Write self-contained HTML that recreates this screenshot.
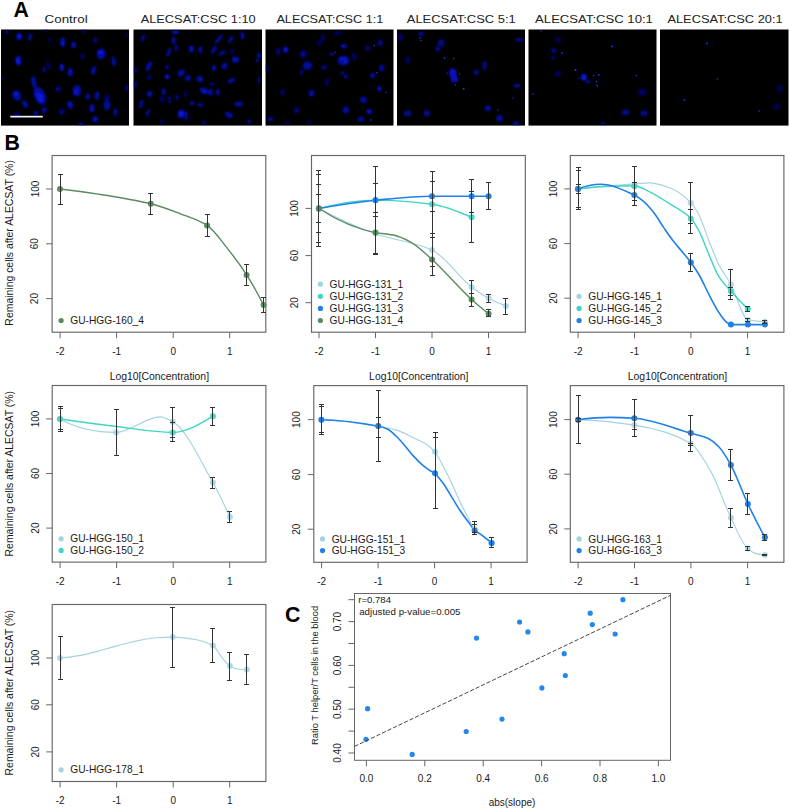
<!DOCTYPE html>
<html><head><meta charset="utf-8"><style>
html,body{margin:0;padding:0;background:#fff;}
svg{display:block;font-family:"Liberation Sans", sans-serif;}
</style></head><body>
<svg width="790" height="808" viewBox="0 0 790 808">
<rect width="790" height="808" fill="#fff"/>
<text x="13.40" y="16.50" font-size="21.3" text-anchor="start" fill="#000" font-weight="bold" >A</text>
<rect x="1" y="29.5" width="128" height="96.1" fill="#000"/>
<rect x="133.5" y="29.5" width="128.5" height="96.1" fill="#000"/>
<rect x="265.5" y="29.5" width="128.0" height="96.1" fill="#000"/>
<rect x="397" y="29.5" width="128" height="96.1" fill="#000"/>
<rect x="528.5" y="29.5" width="128.0" height="96.1" fill="#000"/>
<rect x="660" y="29.5" width="128.5" height="96.1" fill="#000"/>
<text x="44.60" y="22.80" font-size="11.6" text-anchor="start" fill="#222" textLength="43.10" lengthAdjust="spacingAndGlyphs" >Control</text>
<text x="140.70" y="22.80" font-size="11.6" text-anchor="start" fill="#222" textLength="115.00" lengthAdjust="spacingAndGlyphs" >ALECSAT:CSC 1:10</text>
<text x="276.40" y="22.80" font-size="11.6" text-anchor="start" fill="#222" textLength="107.00" lengthAdjust="spacingAndGlyphs" >ALECSAT:CSC 1:1</text>
<text x="406.80" y="22.80" font-size="11.6" text-anchor="start" fill="#222" textLength="108.90" lengthAdjust="spacingAndGlyphs" >ALECSAT:CSC 5:1</text>
<text x="535.10" y="22.80" font-size="11.6" text-anchor="start" fill="#222" textLength="117.80" lengthAdjust="spacingAndGlyphs" >ALECSAT:CSC 10:1</text>
<text x="667.40" y="22.80" font-size="11.6" text-anchor="start" fill="#222" textLength="115.30" lengthAdjust="spacingAndGlyphs" >ALECSAT:CSC 20:1</text>
<defs><filter id="bl" x="-50%" y="-50%" width="200%" height="200%"><feGaussianBlur stdDeviation="0.9"/></filter><filter id="bl2" x="-50%" y="-50%" width="200%" height="200%"><feGaussianBlur stdDeviation="1.3"/></filter><filter id="bl3" x="-50%" y="-50%" width="200%" height="200%"><feGaussianBlur stdDeviation="0.35"/></filter><clipPath id="pc"><rect x="1" y="29.5" width="128" height="96.1"/><rect x="133.5" y="29.5" width="128.5" height="96.1"/><rect x="265.5" y="29.5" width="128.0" height="96.1"/><rect x="397" y="29.5" width="128" height="96.1"/><rect x="528.5" y="29.5" width="128.0" height="96.1"/><rect x="660" y="29.5" width="128.5" height="96.1"/></clipPath></defs>
<g clip-path="url(#pc)">
<g filter="url(#bl)">
<ellipse cx="19.2" cy="36.4" rx="3.0" ry="3.9" transform="rotate(0 19.2 36.4)" fill="rgb(6,12,158)"/>
<ellipse cx="18.3" cy="36.2" rx="1.2" ry="1.4" transform="rotate(16 18.3 36.2)" fill="rgb(10,22,214)"/>
<ellipse cx="19.8" cy="37.2" rx="1.2" ry="1.4" transform="rotate(-4 19.8 37.2)" fill="rgb(10,22,214)"/>
<ellipse cx="20.0" cy="36.5" rx="1.2" ry="1.4" transform="rotate(-25 20.0 36.5)" fill="rgb(10,22,214)"/>
<ellipse cx="30.1" cy="37.2" rx="1.9" ry="4.3" transform="rotate(10 30.1 37.2)" fill="rgb(4,8,130)"/>
<ellipse cx="30.3" cy="35.3" rx="0.8" ry="1.5" transform="rotate(36 30.3 35.3)" fill="rgb(7,14,174)"/>
<ellipse cx="31.0" cy="36.6" rx="0.8" ry="1.5" transform="rotate(-1 31.0 36.6)" fill="rgb(7,14,174)"/>
<ellipse cx="30.7" cy="36.0" rx="0.8" ry="1.5" transform="rotate(-9 30.7 36.0)" fill="rgb(7,14,174)"/>
<ellipse cx="6.7" cy="32.2" rx="2.4" ry="1.7" transform="rotate(0 6.7 32.2)" fill="rgb(3,7,117)"/>
<ellipse cx="6.0" cy="31.9" rx="1.0" ry="0.6" transform="rotate(8 6.0 31.9)" fill="rgb(5,11,154)"/>
<ellipse cx="7.7" cy="31.7" rx="1.0" ry="0.6" transform="rotate(27 7.7 31.7)" fill="rgb(5,11,154)"/>
<ellipse cx="6.8" cy="32.9" rx="1.0" ry="0.6" transform="rotate(19 6.8 32.9)" fill="rgb(5,11,154)"/>
<ellipse cx="45.9" cy="30.5" rx="1.9" ry="1.3" transform="rotate(0 45.9 30.5)" fill="rgb(3,5,103)"/>
<ellipse cx="45.4" cy="30.7" rx="0.8" ry="0.5" transform="rotate(-23 45.4 30.7)" fill="rgb(4,9,134)"/>
<ellipse cx="45.1" cy="30.4" rx="0.8" ry="0.5" transform="rotate(16 45.1 30.4)" fill="rgb(4,9,134)"/>
<ellipse cx="46.1" cy="30.1" rx="0.8" ry="0.5" transform="rotate(20 46.1 30.1)" fill="rgb(4,9,134)"/>
<ellipse cx="50.1" cy="39.7" rx="1.7" ry="2.2" transform="rotate(0 50.1 39.7)" fill="rgb(3,5,96)"/>
<ellipse cx="50.8" cy="39.1" rx="0.7" ry="0.8" transform="rotate(-3 50.8 39.1)" fill="rgb(4,7,124)"/>
<ellipse cx="50.3" cy="40.5" rx="0.7" ry="0.8" transform="rotate(-22 50.3 40.5)" fill="rgb(4,7,124)"/>
<ellipse cx="50.2" cy="40.7" rx="0.7" ry="0.8" transform="rotate(7 50.2 40.7)" fill="rgb(4,7,124)"/>
<ellipse cx="62.7" cy="42.2" rx="2.8" ry="4.7" transform="rotate(0 62.7 42.2)" fill="rgb(5,11,151)"/>
<ellipse cx="63.2" cy="43.5" rx="1.1" ry="1.7" transform="rotate(0 63.2 43.5)" fill="rgb(9,20,204)"/>
<ellipse cx="62.1" cy="42.6" rx="1.1" ry="1.7" transform="rotate(2 62.1 42.6)" fill="rgb(9,20,204)"/>
<ellipse cx="62.3" cy="43.8" rx="1.1" ry="1.7" transform="rotate(-8 62.3 43.8)" fill="rgb(9,20,204)"/>
<ellipse cx="73.5" cy="44.7" rx="2.6" ry="3.2" transform="rotate(0 73.5 44.7)" fill="rgb(5,10,144)"/>
<ellipse cx="73.5" cy="45.5" rx="1.0" ry="1.2" transform="rotate(19 73.5 45.5)" fill="rgb(9,18,194)"/>
<ellipse cx="74.4" cy="45.2" rx="1.0" ry="1.2" transform="rotate(-15 74.4 45.2)" fill="rgb(9,18,194)"/>
<ellipse cx="74.3" cy="46.0" rx="1.0" ry="1.2" transform="rotate(13 74.3 46.0)" fill="rgb(9,18,194)"/>
<ellipse cx="83.5" cy="31.3" rx="2.4" ry="1.7" transform="rotate(0 83.5 31.3)" fill="rgb(3,5,103)"/>
<ellipse cx="84.1" cy="31.4" rx="1.0" ry="0.6" transform="rotate(-0 84.1 31.4)" fill="rgb(4,9,134)"/>
<ellipse cx="83.7" cy="30.7" rx="1.0" ry="0.6" transform="rotate(11 83.7 30.7)" fill="rgb(4,9,134)"/>
<ellipse cx="84.3" cy="30.8" rx="1.0" ry="0.6" transform="rotate(15 84.3 30.8)" fill="rgb(4,9,134)"/>
<ellipse cx="95.2" cy="40.5" rx="1.9" ry="3.2" transform="rotate(15 95.2 40.5)" fill="rgb(3,7,117)"/>
<ellipse cx="95.9" cy="39.5" rx="0.8" ry="1.2" transform="rotate(-12 95.9 39.5)" fill="rgb(5,11,154)"/>
<ellipse cx="95.6" cy="39.7" rx="0.8" ry="1.2" transform="rotate(4 95.6 39.7)" fill="rgb(5,11,154)"/>
<ellipse cx="95.3" cy="41.0" rx="0.8" ry="1.2" transform="rotate(30 95.3 41.0)" fill="rgb(5,11,154)"/>
<ellipse cx="101.1" cy="53.9" rx="4.7" ry="5.6" transform="rotate(0 101.1 53.9)" fill="rgb(5,11,151)"/>
<ellipse cx="101.4" cy="53.0" rx="1.9" ry="2.0" transform="rotate(-29 101.4 53.0)" fill="rgb(9,20,204)"/>
<ellipse cx="99.5" cy="52.2" rx="1.9" ry="2.0" transform="rotate(2 99.5 52.2)" fill="rgb(9,20,204)"/>
<ellipse cx="102.0" cy="52.3" rx="1.9" ry="2.0" transform="rotate(-7 102.0 52.3)" fill="rgb(9,20,204)"/>
<ellipse cx="113.6" cy="61.4" rx="2.4" ry="5.4" transform="rotate(-10 113.6 61.4)" fill="rgb(4,8,130)"/>
<ellipse cx="114.4" cy="60.7" rx="1.0" ry="1.9" transform="rotate(3 114.4 60.7)" fill="rgb(7,14,174)"/>
<ellipse cx="114.0" cy="62.2" rx="1.0" ry="1.9" transform="rotate(-11 114.0 62.2)" fill="rgb(7,14,174)"/>
<ellipse cx="113.9" cy="62.4" rx="1.0" ry="1.9" transform="rotate(-30 113.9 62.4)" fill="rgb(7,14,174)"/>
<ellipse cx="18.4" cy="60.6" rx="3.2" ry="5.2" transform="rotate(0 18.4 60.6)" fill="rgb(6,13,164)"/>
<ellipse cx="19.2" cy="62.5" rx="1.3" ry="1.8" transform="rotate(-27 19.2 62.5)" fill="rgb(11,24,224)"/>
<ellipse cx="17.5" cy="59.3" rx="1.3" ry="1.8" transform="rotate(-24 17.5 59.3)" fill="rgb(11,24,224)"/>
<ellipse cx="17.3" cy="61.3" rx="1.3" ry="1.8" transform="rotate(-23 17.3 61.3)" fill="rgb(11,24,224)"/>
<ellipse cx="82.7" cy="56.4" rx="1.9" ry="3.2" transform="rotate(0 82.7 56.4)" fill="rgb(3,5,103)"/>
<ellipse cx="82.0" cy="57.8" rx="0.8" ry="1.2" transform="rotate(-6 82.0 57.8)" fill="rgb(4,9,134)"/>
<ellipse cx="82.8" cy="56.3" rx="0.8" ry="1.2" transform="rotate(-9 82.8 56.3)" fill="rgb(4,9,134)"/>
<ellipse cx="82.6" cy="55.4" rx="0.8" ry="1.2" transform="rotate(5 82.6 55.4)" fill="rgb(4,9,134)"/>
<ellipse cx="48.5" cy="65.6" rx="1.5" ry="4.7" transform="rotate(-20 48.5 65.6)" fill="rgb(3,5,96)"/>
<ellipse cx="47.6" cy="64.2" rx="0.6" ry="1.7" transform="rotate(-37 47.6 64.2)" fill="rgb(4,7,124)"/>
<ellipse cx="49.0" cy="67.5" rx="0.6" ry="1.7" transform="rotate(-14 49.0 67.5)" fill="rgb(4,7,124)"/>
<ellipse cx="48.9" cy="64.9" rx="0.6" ry="1.7" transform="rotate(-34 48.9 64.9)" fill="rgb(4,7,124)"/>
<ellipse cx="44.3" cy="69.8" rx="1.9" ry="3.0" transform="rotate(0 44.3 69.8)" fill="rgb(3,6,110)"/>
<ellipse cx="44.6" cy="68.9" rx="0.8" ry="1.1" transform="rotate(30 44.6 68.9)" fill="rgb(5,10,144)"/>
<ellipse cx="44.1" cy="69.1" rx="0.8" ry="1.1" transform="rotate(-14 44.1 69.1)" fill="rgb(5,10,144)"/>
<ellipse cx="43.9" cy="71.1" rx="0.8" ry="1.1" transform="rotate(30 43.9 71.1)" fill="rgb(5,10,144)"/>
<ellipse cx="61.8" cy="67.3" rx="2.4" ry="3.9" transform="rotate(0 61.8 67.3)" fill="rgb(5,11,151)"/>
<ellipse cx="61.9" cy="66.2" rx="1.0" ry="1.4" transform="rotate(-29 61.9 66.2)" fill="rgb(9,20,204)"/>
<ellipse cx="60.9" cy="66.5" rx="1.0" ry="1.4" transform="rotate(9 60.9 66.5)" fill="rgb(9,20,204)"/>
<ellipse cx="62.1" cy="68.6" rx="1.0" ry="1.4" transform="rotate(19 62.1 68.6)" fill="rgb(9,20,204)"/>
<ellipse cx="70.2" cy="72.3" rx="2.6" ry="4.3" transform="rotate(0 70.2 72.3)" fill="rgb(5,11,151)"/>
<ellipse cx="69.8" cy="73.0" rx="1.0" ry="1.5" transform="rotate(-3 69.8 73.0)" fill="rgb(9,20,204)"/>
<ellipse cx="70.7" cy="70.9" rx="1.0" ry="1.5" transform="rotate(29 70.7 70.9)" fill="rgb(9,20,204)"/>
<ellipse cx="69.1" cy="72.8" rx="1.0" ry="1.5" transform="rotate(-9 69.1 72.8)" fill="rgb(9,20,204)"/>
<ellipse cx="93.6" cy="70.6" rx="2.4" ry="4.7" transform="rotate(10 93.6 70.6)" fill="rgb(4,8,130)"/>
<ellipse cx="94.5" cy="69.1" rx="1.0" ry="1.7" transform="rotate(33 94.5 69.1)" fill="rgb(7,14,174)"/>
<ellipse cx="92.3" cy="71.5" rx="1.0" ry="1.7" transform="rotate(22 92.3 71.5)" fill="rgb(7,14,174)"/>
<ellipse cx="93.8" cy="69.1" rx="1.0" ry="1.7" transform="rotate(3 93.8 69.1)" fill="rgb(7,14,174)"/>
<ellipse cx="33.4" cy="79.8" rx="2.6" ry="3.9" transform="rotate(0 33.4 79.8)" fill="rgb(4,8,130)"/>
<ellipse cx="33.3" cy="78.7" rx="1.0" ry="1.4" transform="rotate(-20 33.3 78.7)" fill="rgb(7,14,174)"/>
<ellipse cx="34.2" cy="80.0" rx="1.0" ry="1.4" transform="rotate(-14 34.2 80.0)" fill="rgb(7,14,174)"/>
<ellipse cx="33.7" cy="80.3" rx="1.0" ry="1.4" transform="rotate(-22 33.7 80.3)" fill="rgb(7,14,174)"/>
<ellipse cx="39.8" cy="95.7" rx="5.6" ry="9.5" transform="rotate(-25 39.8 95.7)" fill="rgb(6,12,158)"/>
<ellipse cx="40.5" cy="96.2" rx="2.2" ry="3.4" transform="rotate(-48 40.5 96.2)" fill="rgb(10,22,214)"/>
<ellipse cx="40.3" cy="99.2" rx="2.2" ry="3.4" transform="rotate(-20 40.3 99.2)" fill="rgb(10,22,214)"/>
<ellipse cx="38.1" cy="95.4" rx="2.2" ry="3.4" transform="rotate(-27 38.1 95.4)" fill="rgb(10,22,214)"/>
<ellipse cx="34.3" cy="84.0" rx="2.4" ry="3.2" transform="rotate(0 34.3 84.0)" fill="rgb(4,9,137)"/>
<ellipse cx="34.7" cy="85.1" rx="1.0" ry="1.2" transform="rotate(-25 34.7 85.1)" fill="rgb(8,16,184)"/>
<ellipse cx="33.3" cy="83.8" rx="1.0" ry="1.2" transform="rotate(-29 33.3 83.8)" fill="rgb(8,16,184)"/>
<ellipse cx="33.5" cy="82.7" rx="1.0" ry="1.2" transform="rotate(-25 33.5 82.7)" fill="rgb(8,16,184)"/>
<ellipse cx="16.7" cy="95.7" rx="4.3" ry="5.4" transform="rotate(-30 16.7 95.7)" fill="rgb(5,11,151)"/>
<ellipse cx="16.1" cy="93.6" rx="1.7" ry="1.9" transform="rotate(-26 16.1 93.6)" fill="rgb(9,20,204)"/>
<ellipse cx="17.3" cy="93.1" rx="1.7" ry="1.9" transform="rotate(-14 17.3 93.1)" fill="rgb(9,20,204)"/>
<ellipse cx="16.1" cy="94.0" rx="1.7" ry="1.9" transform="rotate(-3 16.1 94.0)" fill="rgb(9,20,204)"/>
<ellipse cx="25.1" cy="104.0" rx="2.6" ry="4.3" transform="rotate(-30 25.1 104.0)" fill="rgb(4,9,137)"/>
<ellipse cx="25.3" cy="103.3" rx="1.0" ry="1.5" transform="rotate(-7 25.3 103.3)" fill="rgb(8,16,184)"/>
<ellipse cx="25.0" cy="105.7" rx="1.0" ry="1.5" transform="rotate(-9 25.0 105.7)" fill="rgb(8,16,184)"/>
<ellipse cx="25.2" cy="106.0" rx="1.0" ry="1.5" transform="rotate(-13 25.2 106.0)" fill="rgb(8,16,184)"/>
<ellipse cx="58.5" cy="89.0" rx="3.2" ry="2.8" transform="rotate(0 58.5 89.0)" fill="rgb(3,5,103)"/>
<ellipse cx="59.7" cy="88.4" rx="1.3" ry="1.0" transform="rotate(14 59.7 88.4)" fill="rgb(4,9,134)"/>
<ellipse cx="59.3" cy="88.6" rx="1.3" ry="1.0" transform="rotate(-28 59.3 88.6)" fill="rgb(4,9,134)"/>
<ellipse cx="57.1" cy="89.0" rx="1.3" ry="1.0" transform="rotate(3 57.1 89.0)" fill="rgb(4,9,134)"/>
<ellipse cx="76.9" cy="90.7" rx="4.3" ry="6.0" transform="rotate(0 76.9 90.7)" fill="rgb(5,10,144)"/>
<ellipse cx="75.4" cy="91.4" rx="1.7" ry="2.2" transform="rotate(-27 75.4 91.4)" fill="rgb(9,18,194)"/>
<ellipse cx="76.8" cy="90.7" rx="1.7" ry="2.2" transform="rotate(-18 76.8 90.7)" fill="rgb(9,18,194)"/>
<ellipse cx="75.1" cy="93.0" rx="1.7" ry="2.2" transform="rotate(21 75.1 93.0)" fill="rgb(9,18,194)"/>
<ellipse cx="87.7" cy="96.5" rx="2.2" ry="3.4" transform="rotate(0 87.7 96.5)" fill="rgb(4,9,137)"/>
<ellipse cx="87.9" cy="94.9" rx="0.9" ry="1.2" transform="rotate(2 87.9 94.9)" fill="rgb(8,16,184)"/>
<ellipse cx="88.6" cy="97.4" rx="0.9" ry="1.2" transform="rotate(11 88.6 97.4)" fill="rgb(8,16,184)"/>
<ellipse cx="86.8" cy="96.8" rx="0.9" ry="1.2" transform="rotate(-16 86.8 96.8)" fill="rgb(8,16,184)"/>
<ellipse cx="96.9" cy="95.7" rx="2.4" ry="4.3" transform="rotate(0 96.9 95.7)" fill="rgb(4,9,137)"/>
<ellipse cx="97.9" cy="93.6" rx="1.0" ry="1.5" transform="rotate(-17 97.9 93.6)" fill="rgb(8,16,184)"/>
<ellipse cx="97.7" cy="94.1" rx="1.0" ry="1.5" transform="rotate(-12 97.7 94.1)" fill="rgb(8,16,184)"/>
<ellipse cx="96.5" cy="97.3" rx="1.0" ry="1.5" transform="rotate(12 96.5 97.3)" fill="rgb(8,16,184)"/>
<ellipse cx="106.9" cy="104.9" rx="3.4" ry="5.6" transform="rotate(0 106.9 104.9)" fill="rgb(4,8,130)"/>
<ellipse cx="108.3" cy="103.2" rx="1.4" ry="2.0" transform="rotate(-25 108.3 103.2)" fill="rgb(7,14,174)"/>
<ellipse cx="106.5" cy="106.3" rx="1.4" ry="2.0" transform="rotate(7 106.5 106.3)" fill="rgb(7,14,174)"/>
<ellipse cx="108.3" cy="106.0" rx="1.4" ry="2.0" transform="rotate(-25 108.3 106.0)" fill="rgb(7,14,174)"/>
<ellipse cx="70.2" cy="104.9" rx="2.8" ry="4.3" transform="rotate(-20 70.2 104.9)" fill="rgb(5,11,151)"/>
<ellipse cx="69.3" cy="103.8" rx="1.1" ry="1.5" transform="rotate(-34 69.3 103.8)" fill="rgb(9,20,204)"/>
<ellipse cx="70.5" cy="104.5" rx="1.1" ry="1.5" transform="rotate(-5 70.5 104.5)" fill="rgb(9,20,204)"/>
<ellipse cx="69.6" cy="106.9" rx="1.1" ry="1.5" transform="rotate(-40 69.6 106.9)" fill="rgb(9,20,204)"/>
<ellipse cx="91.9" cy="108.2" rx="2.6" ry="4.3" transform="rotate(0 91.9 108.2)" fill="rgb(5,11,151)"/>
<ellipse cx="92.5" cy="109.7" rx="1.0" ry="1.5" transform="rotate(-27 92.5 109.7)" fill="rgb(9,20,204)"/>
<ellipse cx="92.0" cy="110.2" rx="1.0" ry="1.5" transform="rotate(-30 92.0 110.2)" fill="rgb(9,20,204)"/>
<ellipse cx="91.9" cy="107.9" rx="1.0" ry="1.5" transform="rotate(-7 91.9 107.9)" fill="rgb(9,20,204)"/>
<ellipse cx="115.3" cy="112.4" rx="2.2" ry="4.3" transform="rotate(0 115.3 112.4)" fill="rgb(3,7,117)"/>
<ellipse cx="114.7" cy="111.0" rx="0.9" ry="1.5" transform="rotate(-14 114.7 111.0)" fill="rgb(5,11,154)"/>
<ellipse cx="114.7" cy="111.5" rx="0.9" ry="1.5" transform="rotate(24 114.7 111.5)" fill="rgb(5,11,154)"/>
<ellipse cx="116.2" cy="111.4" rx="0.9" ry="1.5" transform="rotate(-28 116.2 111.4)" fill="rgb(5,11,154)"/>
<ellipse cx="127.0" cy="88.2" rx="1.7" ry="3.2" transform="rotate(0 127.0 88.2)" fill="rgb(3,7,117)"/>
<ellipse cx="126.6" cy="89.3" rx="0.7" ry="1.2" transform="rotate(-19 126.6 89.3)" fill="rgb(5,11,154)"/>
<ellipse cx="127.2" cy="86.9" rx="0.7" ry="1.2" transform="rotate(-9 127.2 86.9)" fill="rgb(5,11,154)"/>
<ellipse cx="126.5" cy="88.5" rx="0.7" ry="1.2" transform="rotate(-8 126.5 88.5)" fill="rgb(5,11,154)"/>
<ellipse cx="61.8" cy="111.5" rx="3.0" ry="3.0" transform="rotate(0 61.8 111.5)" fill="rgb(3,5,103)"/>
<ellipse cx="62.6" cy="111.6" rx="1.2" ry="1.1" transform="rotate(-6 62.6 111.6)" fill="rgb(4,9,134)"/>
<ellipse cx="60.5" cy="112.5" rx="1.2" ry="1.1" transform="rotate(-28 60.5 112.5)" fill="rgb(4,9,134)"/>
<ellipse cx="61.8" cy="113.0" rx="1.2" ry="1.1" transform="rotate(17 61.8 113.0)" fill="rgb(4,9,134)"/>
<ellipse cx="95.2" cy="119.1" rx="3.2" ry="3.2" transform="rotate(0 95.2 119.1)" fill="rgb(4,9,137)"/>
<ellipse cx="94.8" cy="120.4" rx="1.3" ry="1.2" transform="rotate(-15 94.8 120.4)" fill="rgb(8,16,184)"/>
<ellipse cx="95.5" cy="119.3" rx="1.3" ry="1.2" transform="rotate(13 95.5 119.3)" fill="rgb(8,16,184)"/>
<ellipse cx="94.6" cy="118.7" rx="1.3" ry="1.2" transform="rotate(-11 94.6 118.7)" fill="rgb(8,16,184)"/>
<ellipse cx="81.0" cy="124.1" rx="2.6" ry="1.7" transform="rotate(0 81.0 124.1)" fill="rgb(5,10,144)"/>
<ellipse cx="82.0" cy="124.5" rx="1.0" ry="0.6" transform="rotate(-10 82.0 124.5)" fill="rgb(9,18,194)"/>
<ellipse cx="81.7" cy="124.3" rx="1.0" ry="0.6" transform="rotate(-15 81.7 124.3)" fill="rgb(9,18,194)"/>
<ellipse cx="81.0" cy="123.4" rx="1.0" ry="0.6" transform="rotate(-17 81.0 123.4)" fill="rgb(9,18,194)"/>
<ellipse cx="44.3" cy="109.9" rx="2.8" ry="3.2" transform="rotate(0 44.3 109.9)" fill="rgb(3,7,117)"/>
<ellipse cx="43.2" cy="108.5" rx="1.1" ry="1.2" transform="rotate(7 43.2 108.5)" fill="rgb(5,11,154)"/>
<ellipse cx="45.1" cy="110.9" rx="1.1" ry="1.2" transform="rotate(-17 45.1 110.9)" fill="rgb(5,11,154)"/>
<ellipse cx="45.4" cy="109.3" rx="1.1" ry="1.2" transform="rotate(11 45.4 109.3)" fill="rgb(5,11,154)"/>
<ellipse cx="35.9" cy="113.2" rx="2.8" ry="2.8" transform="rotate(0 35.9 113.2)" fill="rgb(3,7,117)"/>
<ellipse cx="36.2" cy="113.1" rx="1.1" ry="1.0" transform="rotate(11 36.2 113.1)" fill="rgb(5,11,154)"/>
<ellipse cx="36.9" cy="113.8" rx="1.1" ry="1.0" transform="rotate(1 36.9 113.8)" fill="rgb(5,11,154)"/>
<ellipse cx="36.8" cy="113.9" rx="1.1" ry="1.0" transform="rotate(-8 36.8 113.9)" fill="rgb(5,11,154)"/>
<ellipse cx="16.7" cy="114.9" rx="3.2" ry="2.6" transform="rotate(0 16.7 114.9)" fill="rgb(3,5,103)"/>
<ellipse cx="18.1" cy="114.6" rx="1.3" ry="0.9" transform="rotate(-28 18.1 114.6)" fill="rgb(4,9,134)"/>
<ellipse cx="18.0" cy="116.0" rx="1.3" ry="0.9" transform="rotate(2 18.0 116.0)" fill="rgb(4,9,134)"/>
<ellipse cx="17.4" cy="115.4" rx="1.3" ry="0.9" transform="rotate(-24 17.4 115.4)" fill="rgb(4,9,134)"/>
<ellipse cx="127.0" cy="34.7" rx="1.3" ry="2.6" transform="rotate(0 127.0 34.7)" fill="rgb(2,4,89)"/>
<ellipse cx="127.3" cy="35.0" rx="0.5" ry="0.9" transform="rotate(28 127.3 35.0)" fill="rgb(3,6,114)"/>
<ellipse cx="127.0" cy="34.1" rx="0.5" ry="0.9" transform="rotate(16 127.0 34.1)" fill="rgb(3,6,114)"/>
<ellipse cx="127.0" cy="35.6" rx="0.5" ry="0.9" transform="rotate(-27 127.0 35.6)" fill="rgb(3,6,114)"/>
<ellipse cx="2.5" cy="78.1" rx="1.3" ry="2.6" transform="rotate(0 2.5 78.1)" fill="rgb(3,5,103)"/>
<ellipse cx="2.7" cy="79.2" rx="0.5" ry="0.9" transform="rotate(-19 2.7 79.2)" fill="rgb(4,9,134)"/>
<ellipse cx="2.0" cy="78.1" rx="0.5" ry="0.9" transform="rotate(9 2.0 78.1)" fill="rgb(4,9,134)"/>
<ellipse cx="2.7" cy="78.2" rx="0.5" ry="0.9" transform="rotate(-10 2.7 78.2)" fill="rgb(4,9,134)"/>
<ellipse cx="106.9" cy="98.2" rx="2.6" ry="3.9" transform="rotate(0 106.9 98.2)" fill="rgb(3,5,103)"/>
<ellipse cx="107.4" cy="100.0" rx="1.0" ry="1.4" transform="rotate(0 107.4 100.0)" fill="rgb(4,9,134)"/>
<ellipse cx="106.7" cy="100.0" rx="1.0" ry="1.4" transform="rotate(-19 106.7 100.0)" fill="rgb(4,9,134)"/>
<ellipse cx="107.1" cy="99.5" rx="1.0" ry="1.4" transform="rotate(17 107.1 99.5)" fill="rgb(4,9,134)"/>
</g><g filter="url(#bl3)">
</g>
<g filter="url(#bl)">
<ellipse cx="175.4" cy="32.2" rx="3.6" ry="1.8" transform="rotate(0 175.4 32.2)" fill="rgb(7,14,171)"/>
<ellipse cx="175.7" cy="31.6" rx="1.4" ry="0.6" transform="rotate(28 175.7 31.6)" fill="rgb(12,25,225)"/>
<ellipse cx="176.8" cy="32.1" rx="1.4" ry="0.6" transform="rotate(10 176.8 32.1)" fill="rgb(12,25,225)"/>
<ellipse cx="174.5" cy="31.7" rx="1.4" ry="0.6" transform="rotate(-13 174.5 31.7)" fill="rgb(12,25,225)"/>
<ellipse cx="142.9" cy="38.0" rx="1.8" ry="4.4" transform="rotate(20 142.9 38.0)" fill="rgb(3,7,117)"/>
<ellipse cx="143.6" cy="36.9" rx="0.7" ry="1.6" transform="rotate(48 143.6 36.9)" fill="rgb(5,11,154)"/>
<ellipse cx="142.7" cy="36.5" rx="0.7" ry="1.6" transform="rotate(-5 142.7 36.5)" fill="rgb(5,11,154)"/>
<ellipse cx="143.5" cy="37.6" rx="0.7" ry="1.6" transform="rotate(18 143.5 37.6)" fill="rgb(5,11,154)"/>
<ellipse cx="173.8" cy="40.5" rx="2.1" ry="4.4" transform="rotate(0 173.8 40.5)" fill="rgb(4,8,130)"/>
<ellipse cx="173.4" cy="41.1" rx="0.9" ry="1.6" transform="rotate(-6 173.4 41.1)" fill="rgb(7,14,174)"/>
<ellipse cx="173.2" cy="40.2" rx="0.9" ry="1.6" transform="rotate(-12 173.2 40.2)" fill="rgb(7,14,174)"/>
<ellipse cx="173.0" cy="41.9" rx="0.9" ry="1.6" transform="rotate(11 173.0 41.9)" fill="rgb(7,14,174)"/>
<ellipse cx="168.8" cy="52.2" rx="1.8" ry="5.0" transform="rotate(20 168.8 52.2)" fill="rgb(4,8,130)"/>
<ellipse cx="168.4" cy="54.1" rx="0.7" ry="1.8" transform="rotate(14 168.4 54.1)" fill="rgb(7,14,174)"/>
<ellipse cx="168.7" cy="51.8" rx="0.7" ry="1.8" transform="rotate(14 168.7 51.8)" fill="rgb(7,14,174)"/>
<ellipse cx="169.8" cy="50.1" rx="0.7" ry="1.8" transform="rotate(18 169.8 50.1)" fill="rgb(7,14,174)"/>
<ellipse cx="176.3" cy="48.1" rx="1.8" ry="3.6" transform="rotate(0 176.3 48.1)" fill="rgb(3,7,117)"/>
<ellipse cx="176.3" cy="47.5" rx="0.7" ry="1.3" transform="rotate(-29 176.3 47.5)" fill="rgb(5,11,154)"/>
<ellipse cx="176.6" cy="46.3" rx="0.7" ry="1.3" transform="rotate(4 176.6 46.3)" fill="rgb(5,11,154)"/>
<ellipse cx="175.7" cy="46.4" rx="0.7" ry="1.3" transform="rotate(-19 175.7 46.4)" fill="rgb(5,11,154)"/>
<ellipse cx="191.3" cy="48.9" rx="2.7" ry="3.6" transform="rotate(0 191.3 48.9)" fill="rgb(5,10,144)"/>
<ellipse cx="190.3" cy="47.7" rx="1.1" ry="1.3" transform="rotate(11 190.3 47.7)" fill="rgb(9,18,194)"/>
<ellipse cx="191.9" cy="48.4" rx="1.1" ry="1.3" transform="rotate(9 191.9 48.4)" fill="rgb(9,18,194)"/>
<ellipse cx="191.3" cy="48.9" rx="1.1" ry="1.3" transform="rotate(23 191.3 48.9)" fill="rgb(9,18,194)"/>
<ellipse cx="200.5" cy="49.7" rx="2.1" ry="3.6" transform="rotate(0 200.5 49.7)" fill="rgb(4,8,130)"/>
<ellipse cx="200.1" cy="51.0" rx="0.9" ry="1.3" transform="rotate(11 200.1 51.0)" fill="rgb(7,14,174)"/>
<ellipse cx="200.9" cy="48.0" rx="0.9" ry="1.3" transform="rotate(-25 200.9 48.0)" fill="rgb(7,14,174)"/>
<ellipse cx="199.6" cy="49.2" rx="0.9" ry="1.3" transform="rotate(27 199.6 49.2)" fill="rgb(7,14,174)"/>
<ellipse cx="213.9" cy="49.7" rx="2.1" ry="4.4" transform="rotate(30 213.9 49.7)" fill="rgb(4,8,130)"/>
<ellipse cx="213.8" cy="51.4" rx="0.9" ry="1.6" transform="rotate(7 213.8 51.4)" fill="rgb(7,14,174)"/>
<ellipse cx="213.6" cy="51.0" rx="0.9" ry="1.6" transform="rotate(49 213.6 51.0)" fill="rgb(7,14,174)"/>
<ellipse cx="215.1" cy="48.6" rx="0.9" ry="1.6" transform="rotate(11 215.1 48.6)" fill="rgb(7,14,174)"/>
<ellipse cx="218.9" cy="38.9" rx="2.1" ry="6.2" transform="rotate(40 218.9 38.9)" fill="rgb(3,7,117)"/>
<ellipse cx="218.4" cy="40.3" rx="0.9" ry="2.2" transform="rotate(64 218.4 40.3)" fill="rgb(5,11,154)"/>
<ellipse cx="217.3" cy="40.6" rx="0.9" ry="2.2" transform="rotate(18 217.3 40.6)" fill="rgb(5,11,154)"/>
<ellipse cx="218.0" cy="41.2" rx="0.9" ry="2.2" transform="rotate(30 218.0 41.2)" fill="rgb(5,11,154)"/>
<ellipse cx="230.6" cy="39.7" rx="2.1" ry="4.4" transform="rotate(30 230.6 39.7)" fill="rgb(3,7,117)"/>
<ellipse cx="229.8" cy="39.5" rx="0.9" ry="1.6" transform="rotate(41 229.8 39.5)" fill="rgb(5,11,154)"/>
<ellipse cx="231.3" cy="37.9" rx="0.9" ry="1.6" transform="rotate(17 231.3 37.9)" fill="rgb(5,11,154)"/>
<ellipse cx="232.0" cy="38.5" rx="0.9" ry="1.6" transform="rotate(56 232.0 38.5)" fill="rgb(5,11,154)"/>
<ellipse cx="242.3" cy="35.5" rx="2.1" ry="4.4" transform="rotate(0 242.3 35.5)" fill="rgb(3,7,117)"/>
<ellipse cx="241.8" cy="34.2" rx="0.9" ry="1.6" transform="rotate(-23 241.8 34.2)" fill="rgb(5,11,154)"/>
<ellipse cx="243.2" cy="37.3" rx="0.9" ry="1.6" transform="rotate(-11 243.2 37.3)" fill="rgb(5,11,154)"/>
<ellipse cx="241.5" cy="36.2" rx="0.9" ry="1.6" transform="rotate(23 241.5 36.2)" fill="rgb(5,11,154)"/>
<ellipse cx="222.2" cy="53.1" rx="1.8" ry="4.4" transform="rotate(60 222.2 53.1)" fill="rgb(3,7,117)"/>
<ellipse cx="221.3" cy="52.7" rx="0.7" ry="1.6" transform="rotate(81 221.3 52.7)" fill="rgb(5,11,154)"/>
<ellipse cx="221.9" cy="53.2" rx="0.7" ry="1.6" transform="rotate(78 221.9 53.2)" fill="rgb(5,11,154)"/>
<ellipse cx="222.9" cy="52.2" rx="0.7" ry="1.6" transform="rotate(70 222.9 52.2)" fill="rgb(5,11,154)"/>
<ellipse cx="232.3" cy="51.4" rx="1.4" ry="3.6" transform="rotate(30 232.3 51.4)" fill="rgb(3,5,103)"/>
<ellipse cx="232.2" cy="51.5" rx="0.6" ry="1.3" transform="rotate(20 232.2 51.5)" fill="rgb(4,9,134)"/>
<ellipse cx="233.1" cy="51.0" rx="0.6" ry="1.3" transform="rotate(41 233.1 51.0)" fill="rgb(4,9,134)"/>
<ellipse cx="232.9" cy="51.3" rx="0.6" ry="1.3" transform="rotate(3 232.9 51.3)" fill="rgb(4,9,134)"/>
<ellipse cx="235.6" cy="59.7" rx="3.9" ry="3.2" transform="rotate(0 235.6 59.7)" fill="rgb(5,10,144)"/>
<ellipse cx="234.6" cy="58.4" rx="1.6" ry="1.1" transform="rotate(-21 234.6 58.4)" fill="rgb(9,18,194)"/>
<ellipse cx="234.3" cy="59.3" rx="1.6" ry="1.1" transform="rotate(-8 234.3 59.3)" fill="rgb(9,18,194)"/>
<ellipse cx="235.4" cy="60.3" rx="1.6" ry="1.1" transform="rotate(11 235.4 60.3)" fill="rgb(9,18,194)"/>
<ellipse cx="259.0" cy="55.6" rx="2.1" ry="2.7" transform="rotate(0 259.0 55.6)" fill="rgb(5,10,144)"/>
<ellipse cx="259.3" cy="55.2" rx="0.9" ry="1.0" transform="rotate(10 259.3 55.2)" fill="rgb(9,18,194)"/>
<ellipse cx="259.1" cy="54.6" rx="0.9" ry="1.0" transform="rotate(3 259.1 54.6)" fill="rgb(9,18,194)"/>
<ellipse cx="258.6" cy="56.0" rx="0.9" ry="1.0" transform="rotate(14 258.6 56.0)" fill="rgb(9,18,194)"/>
<ellipse cx="257.3" cy="60.6" rx="1.6" ry="1.3" transform="rotate(0 257.3 60.6)" fill="rgb(10,20,206)"/>
<ellipse cx="148.7" cy="66.4" rx="2.7" ry="5.3" transform="rotate(30 148.7 66.4)" fill="rgb(4,8,130)"/>
<ellipse cx="148.3" cy="65.8" rx="1.1" ry="1.9" transform="rotate(27 148.3 65.8)" fill="rgb(7,14,174)"/>
<ellipse cx="149.5" cy="64.1" rx="1.1" ry="1.9" transform="rotate(3 149.5 64.1)" fill="rgb(7,14,174)"/>
<ellipse cx="149.1" cy="68.1" rx="1.1" ry="1.9" transform="rotate(26 149.1 68.1)" fill="rgb(7,14,174)"/>
<ellipse cx="135.3" cy="69.8" rx="1.4" ry="3.6" transform="rotate(0 135.3 69.8)" fill="rgb(3,7,117)"/>
<ellipse cx="135.6" cy="69.0" rx="0.6" ry="1.3" transform="rotate(13 135.6 69.0)" fill="rgb(5,11,154)"/>
<ellipse cx="135.9" cy="70.7" rx="0.6" ry="1.3" transform="rotate(-2 135.9 70.7)" fill="rgb(5,11,154)"/>
<ellipse cx="136.0" cy="71.2" rx="0.6" ry="1.3" transform="rotate(-27 136.0 71.2)" fill="rgb(5,11,154)"/>
<ellipse cx="167.1" cy="67.3" rx="1.8" ry="2.7" transform="rotate(0 167.1 67.3)" fill="rgb(3,7,117)"/>
<ellipse cx="166.9" cy="67.1" rx="0.7" ry="1.0" transform="rotate(-14 166.9 67.1)" fill="rgb(5,11,154)"/>
<ellipse cx="167.3" cy="66.3" rx="0.7" ry="1.0" transform="rotate(15 167.3 66.3)" fill="rgb(5,11,154)"/>
<ellipse cx="167.7" cy="66.1" rx="0.7" ry="1.0" transform="rotate(12 167.7 66.1)" fill="rgb(5,11,154)"/>
<ellipse cx="167.1" cy="76.8" rx="2.5" ry="2.5" transform="rotate(0 167.1 76.8)" fill="rgb(7,14,171)"/>
<ellipse cx="166.6" cy="77.1" rx="1.0" ry="0.9" transform="rotate(11 166.6 77.1)" fill="rgb(12,25,225)"/>
<ellipse cx="168.1" cy="77.5" rx="1.0" ry="0.9" transform="rotate(-10 168.1 77.5)" fill="rgb(12,25,225)"/>
<ellipse cx="167.6" cy="75.9" rx="1.0" ry="0.9" transform="rotate(13 167.6 75.9)" fill="rgb(12,25,225)"/>
<ellipse cx="181.3" cy="73.1" rx="3.2" ry="4.4" transform="rotate(45 181.3 73.1)" fill="rgb(4,8,130)"/>
<ellipse cx="181.8" cy="72.2" rx="1.3" ry="1.6" transform="rotate(29 181.8 72.2)" fill="rgb(7,14,174)"/>
<ellipse cx="179.8" cy="73.5" rx="1.3" ry="1.6" transform="rotate(21 179.8 73.5)" fill="rgb(7,14,174)"/>
<ellipse cx="181.7" cy="71.6" rx="1.3" ry="1.6" transform="rotate(24 181.7 71.6)" fill="rgb(7,14,174)"/>
<ellipse cx="188.0" cy="78.1" rx="2.7" ry="3.6" transform="rotate(40 188.0 78.1)" fill="rgb(4,8,130)"/>
<ellipse cx="188.2" cy="78.7" rx="1.1" ry="1.3" transform="rotate(50 188.2 78.7)" fill="rgb(7,14,174)"/>
<ellipse cx="188.8" cy="78.6" rx="1.1" ry="1.3" transform="rotate(12 188.8 78.6)" fill="rgb(7,14,174)"/>
<ellipse cx="187.4" cy="77.7" rx="1.1" ry="1.3" transform="rotate(53 187.4 77.7)" fill="rgb(7,14,174)"/>
<ellipse cx="199.7" cy="79.0" rx="3.6" ry="3.2" transform="rotate(0 199.7 79.0)" fill="rgb(4,9,137)"/>
<ellipse cx="201.0" cy="79.0" rx="1.4" ry="1.1" transform="rotate(-16 201.0 79.0)" fill="rgb(8,16,184)"/>
<ellipse cx="200.0" cy="80.3" rx="1.4" ry="1.1" transform="rotate(-10 200.0 80.3)" fill="rgb(8,16,184)"/>
<ellipse cx="201.0" cy="80.2" rx="1.4" ry="1.1" transform="rotate(5 201.0 80.2)" fill="rgb(8,16,184)"/>
<ellipse cx="213.9" cy="68.1" rx="2.1" ry="3.2" transform="rotate(0 213.9 68.1)" fill="rgb(5,11,151)"/>
<ellipse cx="213.8" cy="66.9" rx="0.9" ry="1.1" transform="rotate(-23 213.8 66.9)" fill="rgb(9,20,204)"/>
<ellipse cx="213.0" cy="68.5" rx="0.9" ry="1.1" transform="rotate(13 213.0 68.5)" fill="rgb(9,20,204)"/>
<ellipse cx="214.8" cy="68.4" rx="0.9" ry="1.1" transform="rotate(30 214.8 68.4)" fill="rgb(9,20,204)"/>
<ellipse cx="224.7" cy="66.1" rx="3.2" ry="3.6" transform="rotate(0 224.7 66.1)" fill="rgb(4,8,130)"/>
<ellipse cx="224.5" cy="64.8" rx="1.3" ry="1.3" transform="rotate(-26 224.5 64.8)" fill="rgb(7,14,174)"/>
<ellipse cx="224.1" cy="66.2" rx="1.3" ry="1.3" transform="rotate(29 224.1 66.2)" fill="rgb(7,14,174)"/>
<ellipse cx="224.2" cy="65.2" rx="1.3" ry="1.3" transform="rotate(13 224.2 65.2)" fill="rgb(7,14,174)"/>
<ellipse cx="231.4" cy="80.6" rx="2.1" ry="4.4" transform="rotate(60 231.4 80.6)" fill="rgb(4,8,130)"/>
<ellipse cx="231.1" cy="80.6" rx="0.9" ry="1.6" transform="rotate(39 231.1 80.6)" fill="rgb(7,14,174)"/>
<ellipse cx="230.2" cy="82.1" rx="0.9" ry="1.6" transform="rotate(75 230.2 82.1)" fill="rgb(7,14,174)"/>
<ellipse cx="232.5" cy="81.0" rx="0.9" ry="1.6" transform="rotate(32 232.5 81.0)" fill="rgb(7,14,174)"/>
<ellipse cx="259.0" cy="79.8" rx="1.4" ry="3.6" transform="rotate(0 259.0 79.8)" fill="rgb(3,7,117)"/>
<ellipse cx="258.7" cy="81.2" rx="0.6" ry="1.3" transform="rotate(-2 258.7 81.2)" fill="rgb(5,11,154)"/>
<ellipse cx="258.6" cy="78.6" rx="0.6" ry="1.3" transform="rotate(-20 258.6 78.6)" fill="rgb(5,11,154)"/>
<ellipse cx="258.9" cy="81.3" rx="0.6" ry="1.3" transform="rotate(23 258.9 81.3)" fill="rgb(5,11,154)"/>
<ellipse cx="149.5" cy="77.3" rx="2.1" ry="2.7" transform="rotate(0 149.5 77.3)" fill="rgb(3,5,103)"/>
<ellipse cx="150.0" cy="78.0" rx="0.9" ry="1.0" transform="rotate(-19 150.0 78.0)" fill="rgb(4,9,134)"/>
<ellipse cx="150.1" cy="76.6" rx="0.9" ry="1.0" transform="rotate(2 150.1 76.6)" fill="rgb(4,9,134)"/>
<ellipse cx="148.7" cy="78.3" rx="0.9" ry="1.0" transform="rotate(-22 148.7 78.3)" fill="rgb(4,9,134)"/>
<ellipse cx="135.3" cy="84.8" rx="1.4" ry="4.4" transform="rotate(0 135.3 84.8)" fill="rgb(3,7,117)"/>
<ellipse cx="135.5" cy="85.5" rx="0.6" ry="1.6" transform="rotate(9 135.5 85.5)" fill="rgb(5,11,154)"/>
<ellipse cx="135.6" cy="84.2" rx="0.6" ry="1.6" transform="rotate(18 135.6 84.2)" fill="rgb(5,11,154)"/>
<ellipse cx="135.9" cy="85.3" rx="0.6" ry="1.6" transform="rotate(29 135.9 85.3)" fill="rgb(5,11,154)"/>
<ellipse cx="149.5" cy="94.0" rx="2.7" ry="3.2" transform="rotate(0 149.5 94.0)" fill="rgb(5,10,144)"/>
<ellipse cx="150.4" cy="92.6" rx="1.1" ry="1.1" transform="rotate(10 150.4 92.6)" fill="rgb(9,18,194)"/>
<ellipse cx="148.6" cy="94.5" rx="1.1" ry="1.1" transform="rotate(-8 148.6 94.5)" fill="rgb(9,18,194)"/>
<ellipse cx="150.4" cy="92.6" rx="1.1" ry="1.1" transform="rotate(27 150.4 92.6)" fill="rgb(9,18,194)"/>
<ellipse cx="163.7" cy="91.5" rx="2.1" ry="3.6" transform="rotate(0 163.7 91.5)" fill="rgb(4,8,130)"/>
<ellipse cx="162.9" cy="89.9" rx="0.9" ry="1.3" transform="rotate(-30 162.9 89.9)" fill="rgb(7,14,174)"/>
<ellipse cx="163.0" cy="93.2" rx="0.9" ry="1.3" transform="rotate(20 163.0 93.2)" fill="rgb(7,14,174)"/>
<ellipse cx="164.5" cy="90.4" rx="0.9" ry="1.3" transform="rotate(11 164.5 90.4)" fill="rgb(7,14,174)"/>
<ellipse cx="203.8" cy="90.7" rx="4.4" ry="3.2" transform="rotate(30 203.8 90.7)" fill="rgb(5,10,144)"/>
<ellipse cx="204.5" cy="91.9" rx="1.8" ry="1.1" transform="rotate(16 204.5 91.9)" fill="rgb(9,18,194)"/>
<ellipse cx="205.1" cy="92.2" rx="1.8" ry="1.1" transform="rotate(41 205.1 92.2)" fill="rgb(9,18,194)"/>
<ellipse cx="203.3" cy="89.9" rx="1.8" ry="1.1" transform="rotate(45 203.3 89.9)" fill="rgb(9,18,194)"/>
<ellipse cx="210.5" cy="92.3" rx="2.7" ry="3.6" transform="rotate(0 210.5 92.3)" fill="rgb(4,8,130)"/>
<ellipse cx="210.6" cy="92.3" rx="1.1" ry="1.3" transform="rotate(25 210.6 92.3)" fill="rgb(7,14,174)"/>
<ellipse cx="210.3" cy="93.6" rx="1.1" ry="1.3" transform="rotate(-27 210.3 93.6)" fill="rgb(7,14,174)"/>
<ellipse cx="210.6" cy="93.1" rx="1.1" ry="1.3" transform="rotate(-29 210.6 93.1)" fill="rgb(7,14,174)"/>
<ellipse cx="218.0" cy="92.3" rx="2.1" ry="3.6" transform="rotate(0 218.0 92.3)" fill="rgb(4,8,130)"/>
<ellipse cx="218.4" cy="91.6" rx="0.9" ry="1.3" transform="rotate(8 218.4 91.6)" fill="rgb(7,14,174)"/>
<ellipse cx="218.3" cy="91.1" rx="0.9" ry="1.3" transform="rotate(27 218.3 91.1)" fill="rgb(7,14,174)"/>
<ellipse cx="217.6" cy="91.1" rx="0.9" ry="1.3" transform="rotate(-3 217.6 91.1)" fill="rgb(7,14,174)"/>
<ellipse cx="212.2" cy="84.0" rx="2.7" ry="1.8" transform="rotate(0 212.2 84.0)" fill="rgb(3,7,117)"/>
<ellipse cx="211.2" cy="83.3" rx="1.1" ry="0.6" transform="rotate(16 211.2 83.3)" fill="rgb(5,11,154)"/>
<ellipse cx="211.2" cy="84.0" rx="1.1" ry="0.6" transform="rotate(23 211.2 84.0)" fill="rgb(5,11,154)"/>
<ellipse cx="212.1" cy="84.5" rx="1.1" ry="0.6" transform="rotate(20 212.1 84.5)" fill="rgb(5,11,154)"/>
<ellipse cx="185.5" cy="94.0" rx="1.4" ry="3.6" transform="rotate(0 185.5 94.0)" fill="rgb(3,5,103)"/>
<ellipse cx="185.0" cy="92.5" rx="0.6" ry="1.3" transform="rotate(17 185.0 92.5)" fill="rgb(4,9,134)"/>
<ellipse cx="185.9" cy="95.2" rx="0.6" ry="1.3" transform="rotate(13 185.9 95.2)" fill="rgb(4,9,134)"/>
<ellipse cx="185.5" cy="95.6" rx="0.6" ry="1.3" transform="rotate(14 185.5 95.6)" fill="rgb(4,9,134)"/>
<ellipse cx="177.1" cy="97.3" rx="2.1" ry="2.7" transform="rotate(0 177.1 97.3)" fill="rgb(3,7,117)"/>
<ellipse cx="177.6" cy="98.4" rx="0.9" ry="1.0" transform="rotate(-27 177.6 98.4)" fill="rgb(5,11,154)"/>
<ellipse cx="177.6" cy="97.6" rx="0.9" ry="1.0" transform="rotate(-29 177.6 97.6)" fill="rgb(5,11,154)"/>
<ellipse cx="176.6" cy="97.9" rx="0.9" ry="1.0" transform="rotate(2 176.6 97.9)" fill="rgb(5,11,154)"/>
<ellipse cx="162.1" cy="99.0" rx="1.8" ry="3.2" transform="rotate(0 162.1 99.0)" fill="rgb(3,7,117)"/>
<ellipse cx="162.2" cy="98.3" rx="0.7" ry="1.1" transform="rotate(4 162.2 98.3)" fill="rgb(5,11,154)"/>
<ellipse cx="162.7" cy="100.5" rx="0.7" ry="1.1" transform="rotate(3 162.7 100.5)" fill="rgb(5,11,154)"/>
<ellipse cx="162.4" cy="97.7" rx="0.7" ry="1.1" transform="rotate(-22 162.4 97.7)" fill="rgb(5,11,154)"/>
<ellipse cx="169.6" cy="99.8" rx="1.4" ry="5.0" transform="rotate(0 169.6 99.8)" fill="rgb(3,7,117)"/>
<ellipse cx="169.7" cy="101.4" rx="0.6" ry="1.8" transform="rotate(-23 169.7 101.4)" fill="rgb(5,11,154)"/>
<ellipse cx="169.1" cy="99.8" rx="0.6" ry="1.8" transform="rotate(-12 169.1 99.8)" fill="rgb(5,11,154)"/>
<ellipse cx="169.1" cy="98.2" rx="0.6" ry="1.8" transform="rotate(-5 169.1 98.2)" fill="rgb(5,11,154)"/>
<ellipse cx="141.2" cy="104.0" rx="1.8" ry="5.0" transform="rotate(20 141.2 104.0)" fill="rgb(4,8,130)"/>
<ellipse cx="142.2" cy="102.7" rx="0.7" ry="1.8" transform="rotate(38 142.2 102.7)" fill="rgb(7,14,174)"/>
<ellipse cx="141.0" cy="102.6" rx="0.7" ry="1.8" transform="rotate(30 141.0 102.6)" fill="rgb(7,14,174)"/>
<ellipse cx="140.8" cy="102.9" rx="0.7" ry="1.8" transform="rotate(-1 140.8 102.9)" fill="rgb(7,14,174)"/>
<ellipse cx="147.9" cy="112.4" rx="1.8" ry="4.4" transform="rotate(20 147.9 112.4)" fill="rgb(3,7,117)"/>
<ellipse cx="146.9" cy="113.8" rx="0.7" ry="1.6" transform="rotate(-0 146.9 113.8)" fill="rgb(5,11,154)"/>
<ellipse cx="147.6" cy="114.2" rx="0.7" ry="1.6" transform="rotate(5 147.6 114.2)" fill="rgb(5,11,154)"/>
<ellipse cx="148.7" cy="111.8" rx="0.7" ry="1.6" transform="rotate(36 148.7 111.8)" fill="rgb(5,11,154)"/>
<ellipse cx="181.3" cy="114.0" rx="3.9" ry="4.4" transform="rotate(0 181.3 114.0)" fill="rgb(7,14,171)"/>
<ellipse cx="181.6" cy="113.4" rx="1.6" ry="1.6" transform="rotate(23 181.6 113.4)" fill="rgb(12,25,225)"/>
<ellipse cx="182.0" cy="113.3" rx="1.6" ry="1.6" transform="rotate(4 182.0 113.3)" fill="rgb(12,25,225)"/>
<ellipse cx="180.6" cy="113.1" rx="1.6" ry="1.6" transform="rotate(26 180.6 113.1)" fill="rgb(12,25,225)"/>
<ellipse cx="186.3" cy="115.7" rx="1.8" ry="5.3" transform="rotate(0 186.3 115.7)" fill="rgb(3,7,117)"/>
<ellipse cx="187.1" cy="113.9" rx="0.7" ry="1.9" transform="rotate(25 187.1 113.9)" fill="rgb(5,11,154)"/>
<ellipse cx="186.6" cy="113.2" rx="0.7" ry="1.9" transform="rotate(-24 186.6 113.2)" fill="rgb(5,11,154)"/>
<ellipse cx="186.2" cy="117.7" rx="0.7" ry="1.9" transform="rotate(22 186.2 117.7)" fill="rgb(5,11,154)"/>
<ellipse cx="192.2" cy="103.2" rx="2.7" ry="2.1" transform="rotate(0 192.2 103.2)" fill="rgb(4,8,130)"/>
<ellipse cx="191.6" cy="103.1" rx="1.1" ry="0.8" transform="rotate(26 191.6 103.1)" fill="rgb(7,14,174)"/>
<ellipse cx="191.5" cy="102.4" rx="1.1" ry="0.8" transform="rotate(-5 191.5 102.4)" fill="rgb(7,14,174)"/>
<ellipse cx="192.6" cy="104.0" rx="1.1" ry="0.8" transform="rotate(23 192.6 104.0)" fill="rgb(7,14,174)"/>
<ellipse cx="200.5" cy="104.9" rx="2.7" ry="2.7" transform="rotate(0 200.5 104.9)" fill="rgb(3,7,117)"/>
<ellipse cx="199.3" cy="104.0" rx="1.1" ry="1.0" transform="rotate(-22 199.3 104.0)" fill="rgb(5,11,154)"/>
<ellipse cx="200.7" cy="104.6" rx="1.1" ry="1.0" transform="rotate(25 200.7 104.6)" fill="rgb(5,11,154)"/>
<ellipse cx="200.8" cy="105.2" rx="1.1" ry="1.0" transform="rotate(11 200.8 105.2)" fill="rgb(5,11,154)"/>
<ellipse cx="238.9" cy="104.0" rx="4.4" ry="2.7" transform="rotate(0 238.9 104.0)" fill="rgb(4,8,130)"/>
<ellipse cx="237.8" cy="105.1" rx="1.8" ry="1.0" transform="rotate(22 237.8 105.1)" fill="rgb(7,14,174)"/>
<ellipse cx="240.2" cy="104.8" rx="1.8" ry="1.0" transform="rotate(-20 240.2 104.8)" fill="rgb(7,14,174)"/>
<ellipse cx="237.2" cy="103.7" rx="1.8" ry="1.0" transform="rotate(13 237.2 103.7)" fill="rgb(7,14,174)"/>
<ellipse cx="228.9" cy="114.9" rx="4.4" ry="2.7" transform="rotate(30 228.9 114.9)" fill="rgb(4,8,130)"/>
<ellipse cx="227.4" cy="115.1" rx="1.8" ry="1.0" transform="rotate(51 227.4 115.1)" fill="rgb(7,14,174)"/>
<ellipse cx="229.6" cy="115.2" rx="1.8" ry="1.0" transform="rotate(9 229.6 115.2)" fill="rgb(7,14,174)"/>
<ellipse cx="230.4" cy="114.8" rx="1.8" ry="1.0" transform="rotate(30 230.4 114.8)" fill="rgb(7,14,174)"/>
<ellipse cx="249.0" cy="121.6" rx="2.7" ry="2.1" transform="rotate(0 249.0 121.6)" fill="rgb(3,7,117)"/>
<ellipse cx="249.6" cy="121.9" rx="1.1" ry="0.8" transform="rotate(-16 249.6 121.9)" fill="rgb(5,11,154)"/>
<ellipse cx="249.9" cy="121.2" rx="1.1" ry="0.8" transform="rotate(-5 249.9 121.2)" fill="rgb(5,11,154)"/>
<ellipse cx="248.8" cy="122.0" rx="1.1" ry="0.8" transform="rotate(-28 248.8 122.0)" fill="rgb(5,11,154)"/>
<ellipse cx="203.8" cy="122.4" rx="1.8" ry="2.7" transform="rotate(0 203.8 122.4)" fill="rgb(3,7,117)"/>
<ellipse cx="204.1" cy="122.4" rx="0.7" ry="1.0" transform="rotate(18 204.1 122.4)" fill="rgb(5,11,154)"/>
<ellipse cx="203.6" cy="122.6" rx="0.7" ry="1.0" transform="rotate(28 203.6 122.6)" fill="rgb(5,11,154)"/>
<ellipse cx="203.1" cy="123.2" rx="0.7" ry="1.0" transform="rotate(-2 203.1 123.2)" fill="rgb(5,11,154)"/>
<ellipse cx="162.1" cy="121.6" rx="1.8" ry="2.7" transform="rotate(0 162.1 121.6)" fill="rgb(3,5,103)"/>
<ellipse cx="161.8" cy="121.0" rx="0.7" ry="1.0" transform="rotate(-17 161.8 121.0)" fill="rgb(4,9,134)"/>
<ellipse cx="162.6" cy="120.8" rx="0.7" ry="1.0" transform="rotate(28 162.6 120.8)" fill="rgb(4,9,134)"/>
<ellipse cx="162.1" cy="121.0" rx="0.7" ry="1.0" transform="rotate(17 162.1 121.0)" fill="rgb(4,9,134)"/>
</g><g filter="url(#bl3)">
</g>
<g filter="url(#bl)">
<ellipse cx="278.2" cy="51.4" rx="2.1" ry="3.9" transform="rotate(0 278.2 51.4)" fill="rgb(3,6,110)"/>
<ellipse cx="277.5" cy="51.8" rx="0.9" ry="1.4" transform="rotate(-20 277.5 51.8)" fill="rgb(5,10,144)"/>
<ellipse cx="278.6" cy="51.8" rx="0.9" ry="1.4" transform="rotate(-7 278.6 51.8)" fill="rgb(5,10,144)"/>
<ellipse cx="278.4" cy="51.6" rx="0.9" ry="1.4" transform="rotate(-27 278.4 51.6)" fill="rgb(5,10,144)"/>
<ellipse cx="285.7" cy="49.7" rx="2.7" ry="3.2" transform="rotate(0 285.7 49.7)" fill="rgb(7,14,171)"/>
<ellipse cx="285.8" cy="50.1" rx="1.1" ry="1.1" transform="rotate(1 285.8 50.1)" fill="rgb(12,25,225)"/>
<ellipse cx="286.6" cy="50.5" rx="1.1" ry="1.1" transform="rotate(-7 286.6 50.5)" fill="rgb(12,25,225)"/>
<ellipse cx="285.1" cy="48.6" rx="1.1" ry="1.1" transform="rotate(19 285.1 48.6)" fill="rgb(12,25,225)"/>
<ellipse cx="303.3" cy="53.9" rx="3.6" ry="3.9" transform="rotate(0 303.3 53.9)" fill="rgb(3,6,110)"/>
<ellipse cx="303.9" cy="54.3" rx="1.4" ry="1.4" transform="rotate(-3 303.9 54.3)" fill="rgb(5,10,144)"/>
<ellipse cx="303.3" cy="52.8" rx="1.4" ry="1.4" transform="rotate(2 303.3 52.8)" fill="rgb(5,10,144)"/>
<ellipse cx="302.1" cy="54.4" rx="1.4" ry="1.4" transform="rotate(8 302.1 54.4)" fill="rgb(5,10,144)"/>
<ellipse cx="307.4" cy="65.6" rx="5.0" ry="4.4" transform="rotate(0 307.4 65.6)" fill="rgb(4,8,130)"/>
<ellipse cx="308.2" cy="64.5" rx="2.0" ry="1.6" transform="rotate(-24 308.2 64.5)" fill="rgb(7,14,174)"/>
<ellipse cx="306.7" cy="66.4" rx="2.0" ry="1.6" transform="rotate(1 306.7 66.4)" fill="rgb(7,14,174)"/>
<ellipse cx="308.5" cy="65.3" rx="2.0" ry="1.6" transform="rotate(-6 308.5 65.3)" fill="rgb(7,14,174)"/>
<ellipse cx="301.6" cy="72.3" rx="2.1" ry="2.7" transform="rotate(0 301.6 72.3)" fill="rgb(3,5,103)"/>
<ellipse cx="302.4" cy="71.4" rx="0.9" ry="1.0" transform="rotate(-18 302.4 71.4)" fill="rgb(4,9,134)"/>
<ellipse cx="301.8" cy="72.6" rx="0.9" ry="1.0" transform="rotate(-4 301.8 72.6)" fill="rgb(4,9,134)"/>
<ellipse cx="301.7" cy="72.1" rx="0.9" ry="1.0" transform="rotate(10 301.7 72.1)" fill="rgb(4,9,134)"/>
<ellipse cx="267.3" cy="68.9" rx="1.8" ry="2.7" transform="rotate(0 267.3 68.9)" fill="rgb(3,5,103)"/>
<ellipse cx="268.0" cy="69.8" rx="0.7" ry="1.0" transform="rotate(8 268.0 69.8)" fill="rgb(4,9,134)"/>
<ellipse cx="267.3" cy="70.1" rx="0.7" ry="1.0" transform="rotate(-3 267.3 70.1)" fill="rgb(4,9,134)"/>
<ellipse cx="267.5" cy="69.9" rx="0.7" ry="1.0" transform="rotate(11 267.5 69.9)" fill="rgb(4,9,134)"/>
<ellipse cx="322.5" cy="38.0" rx="1.8" ry="4.4" transform="rotate(0 322.5 38.0)" fill="rgb(3,5,96)"/>
<ellipse cx="322.3" cy="39.1" rx="0.7" ry="1.6" transform="rotate(6 322.3 39.1)" fill="rgb(4,7,124)"/>
<ellipse cx="323.1" cy="38.6" rx="0.7" ry="1.6" transform="rotate(2 323.1 38.6)" fill="rgb(4,7,124)"/>
<ellipse cx="323.2" cy="38.1" rx="0.7" ry="1.6" transform="rotate(-6 323.2 38.1)" fill="rgb(4,7,124)"/>
<ellipse cx="319.1" cy="43.0" rx="2.1" ry="2.7" transform="rotate(0 319.1 43.0)" fill="rgb(3,5,96)"/>
<ellipse cx="320.0" cy="44.2" rx="0.9" ry="1.0" transform="rotate(-20 320.0 44.2)" fill="rgb(4,7,124)"/>
<ellipse cx="318.3" cy="44.0" rx="0.9" ry="1.0" transform="rotate(23 318.3 44.0)" fill="rgb(4,7,124)"/>
<ellipse cx="318.9" cy="42.4" rx="0.9" ry="1.0" transform="rotate(11 318.9 42.4)" fill="rgb(4,7,124)"/>
<ellipse cx="337.5" cy="33.0" rx="4.4" ry="1.8" transform="rotate(0 337.5 33.0)" fill="rgb(3,5,96)"/>
<ellipse cx="339.3" cy="32.5" rx="1.8" ry="0.6" transform="rotate(-3 339.3 32.5)" fill="rgb(4,7,124)"/>
<ellipse cx="338.2" cy="32.5" rx="1.8" ry="0.6" transform="rotate(-5 338.2 32.5)" fill="rgb(4,7,124)"/>
<ellipse cx="336.1" cy="33.0" rx="1.8" ry="0.6" transform="rotate(-16 336.1 33.0)" fill="rgb(4,7,124)"/>
<ellipse cx="344.2" cy="46.0" rx="3.2" ry="2.1" transform="rotate(0 344.2 46.0)" fill="rgb(6,13,164)"/>
<ellipse cx="343.0" cy="45.8" rx="1.3" ry="0.8" transform="rotate(-21 343.0 45.8)" fill="rgb(11,24,224)"/>
<ellipse cx="343.1" cy="45.3" rx="1.3" ry="0.8" transform="rotate(-5 343.1 45.3)" fill="rgb(11,24,224)"/>
<ellipse cx="343.7" cy="46.5" rx="1.3" ry="0.8" transform="rotate(-5 343.7 46.5)" fill="rgb(11,24,224)"/>
<ellipse cx="331.7" cy="54.4" rx="1.6" ry="1.3" transform="rotate(0 331.7 54.4)" fill="rgb(12,25,225)"/>
<ellipse cx="343.4" cy="60.6" rx="6.2" ry="5.0" transform="rotate(0 343.4 60.6)" fill="rgb(5,10,144)"/>
<ellipse cx="341.9" cy="59.1" rx="2.5" ry="1.8" transform="rotate(-12 341.9 59.1)" fill="rgb(9,18,194)"/>
<ellipse cx="344.7" cy="59.1" rx="2.5" ry="1.8" transform="rotate(-2 344.7 59.1)" fill="rgb(9,18,194)"/>
<ellipse cx="345.1" cy="62.2" rx="2.5" ry="1.8" transform="rotate(-2 345.1 62.2)" fill="rgb(9,18,194)"/>
<ellipse cx="354.2" cy="56.4" rx="2.1" ry="3.6" transform="rotate(0 354.2 56.4)" fill="rgb(3,5,103)"/>
<ellipse cx="354.9" cy="56.9" rx="0.9" ry="1.3" transform="rotate(-16 354.9 56.9)" fill="rgb(4,9,134)"/>
<ellipse cx="353.5" cy="55.3" rx="0.9" ry="1.3" transform="rotate(17 353.5 55.3)" fill="rgb(4,9,134)"/>
<ellipse cx="354.0" cy="57.6" rx="0.9" ry="1.3" transform="rotate(28 354.0 57.6)" fill="rgb(4,9,134)"/>
<ellipse cx="367.6" cy="48.1" rx="2.7" ry="2.7" transform="rotate(0 367.6 48.1)" fill="rgb(3,5,103)"/>
<ellipse cx="368.6" cy="48.0" rx="1.1" ry="1.0" transform="rotate(-30 368.6 48.0)" fill="rgb(4,9,134)"/>
<ellipse cx="367.1" cy="47.3" rx="1.1" ry="1.0" transform="rotate(9 367.1 47.3)" fill="rgb(4,9,134)"/>
<ellipse cx="368.1" cy="49.2" rx="1.1" ry="1.0" transform="rotate(12 368.1 49.2)" fill="rgb(4,9,134)"/>
<ellipse cx="380.1" cy="43.0" rx="2.7" ry="3.2" transform="rotate(0 380.1 43.0)" fill="rgb(3,7,117)"/>
<ellipse cx="381.2" cy="43.5" rx="1.1" ry="1.1" transform="rotate(-2 381.2 43.5)" fill="rgb(5,11,154)"/>
<ellipse cx="380.9" cy="42.3" rx="1.1" ry="1.1" transform="rotate(17 380.9 42.3)" fill="rgb(5,11,154)"/>
<ellipse cx="380.7" cy="44.2" rx="1.1" ry="1.1" transform="rotate(-26 380.7 44.2)" fill="rgb(5,11,154)"/>
<ellipse cx="324.2" cy="67.3" rx="3.2" ry="2.1" transform="rotate(0 324.2 67.3)" fill="rgb(3,7,117)"/>
<ellipse cx="323.3" cy="68.2" rx="1.3" ry="0.8" transform="rotate(-21 323.3 68.2)" fill="rgb(5,11,154)"/>
<ellipse cx="324.0" cy="67.5" rx="1.3" ry="0.8" transform="rotate(-1 324.0 67.5)" fill="rgb(5,11,154)"/>
<ellipse cx="325.2" cy="68.2" rx="1.3" ry="0.8" transform="rotate(-10 325.2 68.2)" fill="rgb(5,11,154)"/>
<ellipse cx="345.9" cy="76.5" rx="2.1" ry="1.8" transform="rotate(0 345.9 76.5)" fill="rgb(6,13,164)"/>
<ellipse cx="345.2" cy="77.2" rx="0.9" ry="0.6" transform="rotate(-3 345.2 77.2)" fill="rgb(11,24,224)"/>
<ellipse cx="345.4" cy="75.8" rx="0.9" ry="0.6" transform="rotate(-29 345.4 75.8)" fill="rgb(11,24,224)"/>
<ellipse cx="346.0" cy="76.1" rx="0.9" ry="0.6" transform="rotate(3 346.0 76.1)" fill="rgb(11,24,224)"/>
<ellipse cx="342.5" cy="73.1" rx="2.1" ry="1.8" transform="rotate(0 342.5 73.1)" fill="rgb(3,7,117)"/>
<ellipse cx="343.3" cy="73.1" rx="0.9" ry="0.6" transform="rotate(27 343.3 73.1)" fill="rgb(5,11,154)"/>
<ellipse cx="341.7" cy="73.6" rx="0.9" ry="0.6" transform="rotate(15 341.7 73.6)" fill="rgb(5,11,154)"/>
<ellipse cx="343.4" cy="72.3" rx="0.9" ry="0.6" transform="rotate(0 343.4 72.3)" fill="rgb(5,11,154)"/>
<ellipse cx="326.7" cy="81.5" rx="1.8" ry="4.4" transform="rotate(0 326.7 81.5)" fill="rgb(3,5,96)"/>
<ellipse cx="326.7" cy="81.9" rx="0.7" ry="1.6" transform="rotate(-2 326.7 81.9)" fill="rgb(4,7,124)"/>
<ellipse cx="326.3" cy="83.2" rx="0.7" ry="1.6" transform="rotate(23 326.3 83.2)" fill="rgb(4,7,124)"/>
<ellipse cx="327.0" cy="83.5" rx="0.7" ry="1.6" transform="rotate(3 327.0 83.5)" fill="rgb(4,7,124)"/>
<ellipse cx="381.8" cy="68.1" rx="2.7" ry="3.9" transform="rotate(0 381.8 68.1)" fill="rgb(3,7,117)"/>
<ellipse cx="380.8" cy="68.8" rx="1.1" ry="1.4" transform="rotate(-24 380.8 68.8)" fill="rgb(5,11,154)"/>
<ellipse cx="382.4" cy="68.7" rx="1.1" ry="1.4" transform="rotate(-18 382.4 68.7)" fill="rgb(5,11,154)"/>
<ellipse cx="381.0" cy="66.4" rx="1.1" ry="1.4" transform="rotate(-19 381.0 66.4)" fill="rgb(5,11,154)"/>
<ellipse cx="372.6" cy="75.6" rx="2.7" ry="3.2" transform="rotate(0 372.6 75.6)" fill="rgb(3,7,117)"/>
<ellipse cx="373.7" cy="74.8" rx="1.1" ry="1.1" transform="rotate(23 373.7 74.8)" fill="rgb(5,11,154)"/>
<ellipse cx="371.7" cy="75.1" rx="1.1" ry="1.1" transform="rotate(-2 371.7 75.1)" fill="rgb(5,11,154)"/>
<ellipse cx="372.3" cy="77.1" rx="1.1" ry="1.1" transform="rotate(-16 372.3 77.1)" fill="rgb(5,11,154)"/>
<ellipse cx="379.3" cy="89.0" rx="2.1" ry="2.7" transform="rotate(0 379.3 89.0)" fill="rgb(7,14,171)"/>
<ellipse cx="379.3" cy="88.2" rx="0.9" ry="1.0" transform="rotate(-23 379.3 88.2)" fill="rgb(12,25,225)"/>
<ellipse cx="379.7" cy="88.6" rx="0.9" ry="1.0" transform="rotate(-1 379.7 88.6)" fill="rgb(12,25,225)"/>
<ellipse cx="379.7" cy="87.9" rx="0.9" ry="1.0" transform="rotate(-27 379.7 87.9)" fill="rgb(12,25,225)"/>
<ellipse cx="282.4" cy="92.3" rx="2.1" ry="3.2" transform="rotate(0 282.4 92.3)" fill="rgb(3,5,103)"/>
<ellipse cx="282.7" cy="93.9" rx="0.9" ry="1.1" transform="rotate(-29 282.7 93.9)" fill="rgb(4,9,134)"/>
<ellipse cx="282.3" cy="93.9" rx="0.9" ry="1.1" transform="rotate(20 282.3 93.9)" fill="rgb(4,9,134)"/>
<ellipse cx="283.3" cy="92.4" rx="0.9" ry="1.1" transform="rotate(28 283.3 92.4)" fill="rgb(4,9,134)"/>
<ellipse cx="311.6" cy="93.2" rx="3.2" ry="3.2" transform="rotate(0 311.6 93.2)" fill="rgb(4,9,137)"/>
<ellipse cx="310.4" cy="93.1" rx="1.3" ry="1.1" transform="rotate(21 310.4 93.1)" fill="rgb(8,16,184)"/>
<ellipse cx="311.3" cy="93.0" rx="1.3" ry="1.1" transform="rotate(-3 311.3 93.0)" fill="rgb(8,16,184)"/>
<ellipse cx="311.3" cy="94.1" rx="1.3" ry="1.1" transform="rotate(28 311.3 94.1)" fill="rgb(8,16,184)"/>
<ellipse cx="363.4" cy="99.8" rx="3.6" ry="3.2" transform="rotate(0 363.4 99.8)" fill="rgb(4,8,130)"/>
<ellipse cx="362.6" cy="99.3" rx="1.4" ry="1.1" transform="rotate(18 362.6 99.3)" fill="rgb(7,14,174)"/>
<ellipse cx="364.2" cy="100.8" rx="1.4" ry="1.1" transform="rotate(11 364.2 100.8)" fill="rgb(7,14,174)"/>
<ellipse cx="364.7" cy="100.9" rx="1.4" ry="1.1" transform="rotate(8 364.7 100.9)" fill="rgb(7,14,174)"/>
<ellipse cx="345.9" cy="109.9" rx="3.6" ry="3.6" transform="rotate(0 345.9 109.9)" fill="rgb(4,7,123)"/>
<ellipse cx="345.2" cy="108.4" rx="1.4" ry="1.3" transform="rotate(22 345.2 108.4)" fill="rgb(6,13,164)"/>
<ellipse cx="347.0" cy="111.2" rx="1.4" ry="1.3" transform="rotate(-14 347.0 111.2)" fill="rgb(6,13,164)"/>
<ellipse cx="346.6" cy="111.4" rx="1.4" ry="1.3" transform="rotate(-18 346.6 111.4)" fill="rgb(6,13,164)"/>
<ellipse cx="369.3" cy="111.5" rx="2.7" ry="2.7" transform="rotate(0 369.3 111.5)" fill="rgb(6,13,164)"/>
<ellipse cx="368.1" cy="110.7" rx="1.1" ry="1.0" transform="rotate(-17 368.1 110.7)" fill="rgb(11,24,224)"/>
<ellipse cx="369.7" cy="112.4" rx="1.1" ry="1.0" transform="rotate(19 369.7 112.4)" fill="rgb(11,24,224)"/>
<ellipse cx="369.7" cy="112.8" rx="1.1" ry="1.0" transform="rotate(28 369.7 112.8)" fill="rgb(11,24,224)"/>
<ellipse cx="296.6" cy="109.9" rx="2.7" ry="3.6" transform="rotate(0 296.6 109.9)" fill="rgb(3,5,103)"/>
<ellipse cx="296.4" cy="111.3" rx="1.1" ry="1.3" transform="rotate(13 296.4 111.3)" fill="rgb(4,9,134)"/>
<ellipse cx="296.0" cy="110.2" rx="1.1" ry="1.3" transform="rotate(-20 296.0 110.2)" fill="rgb(4,9,134)"/>
<ellipse cx="296.3" cy="111.0" rx="1.1" ry="1.3" transform="rotate(-29 296.3 111.0)" fill="rgb(4,9,134)"/>
<ellipse cx="270.7" cy="119.1" rx="3.2" ry="2.7" transform="rotate(0 270.7 119.1)" fill="rgb(3,7,117)"/>
<ellipse cx="270.8" cy="118.9" rx="1.3" ry="1.0" transform="rotate(-13 270.8 118.9)" fill="rgb(5,11,154)"/>
<ellipse cx="269.4" cy="119.1" rx="1.3" ry="1.0" transform="rotate(-10 269.4 119.1)" fill="rgb(5,11,154)"/>
<ellipse cx="269.5" cy="118.8" rx="1.3" ry="1.0" transform="rotate(11 269.5 118.8)" fill="rgb(5,11,154)"/>
<ellipse cx="360.9" cy="119.1" rx="3.6" ry="2.7" transform="rotate(0 360.9 119.1)" fill="rgb(4,8,130)"/>
<ellipse cx="359.6" cy="119.8" rx="1.4" ry="1.0" transform="rotate(-25 359.6 119.8)" fill="rgb(7,14,174)"/>
<ellipse cx="360.8" cy="118.7" rx="1.4" ry="1.0" transform="rotate(21 360.8 118.7)" fill="rgb(7,14,174)"/>
<ellipse cx="362.2" cy="119.7" rx="1.4" ry="1.0" transform="rotate(-12 362.2 119.7)" fill="rgb(7,14,174)"/>
<ellipse cx="309.1" cy="122.4" rx="2.7" ry="1.8" transform="rotate(0 309.1 122.4)" fill="rgb(2,4,89)"/>
<ellipse cx="308.7" cy="123.0" rx="1.1" ry="0.6" transform="rotate(1 308.7 123.0)" fill="rgb(3,6,114)"/>
<ellipse cx="309.4" cy="122.8" rx="1.1" ry="0.6" transform="rotate(-18 309.4 122.8)" fill="rgb(3,6,114)"/>
<ellipse cx="308.8" cy="123.2" rx="1.1" ry="0.6" transform="rotate(-10 308.8 123.2)" fill="rgb(3,6,114)"/>
<ellipse cx="287.4" cy="123.2" rx="2.7" ry="1.8" transform="rotate(0 287.4 123.2)" fill="rgb(2,4,89)"/>
<ellipse cx="288.2" cy="122.6" rx="1.1" ry="0.6" transform="rotate(-29 288.2 122.6)" fill="rgb(3,6,114)"/>
<ellipse cx="287.4" cy="122.9" rx="1.1" ry="0.6" transform="rotate(6 287.4 122.9)" fill="rgb(3,6,114)"/>
<ellipse cx="288.0" cy="122.4" rx="1.1" ry="0.6" transform="rotate(-0 288.0 122.4)" fill="rgb(3,6,114)"/>
</g><g filter="url(#bl3)">
<circle cx="335.0" cy="52.2" r="0.75" fill="rgb(30,60,255)"/>
<circle cx="374.3" cy="45.5" r="0.75" fill="rgb(30,60,255)"/>
<circle cx="376.8" cy="72.8" r="0.75" fill="rgb(30,60,255)"/>
<circle cx="386.0" cy="92.3" r="0.63" fill="rgb(30,60,255)"/>
<circle cx="370.9" cy="119.9" r="0.75" fill="rgb(30,60,255)"/>
</g>
<g filter="url(#bl2)">
<ellipse cx="400.2" cy="37.2" rx="2.4" ry="4.0" transform="rotate(0 400.2 37.2)" fill="rgb(3,6,111)"/>
<ellipse cx="421.1" cy="33.8" rx="2.9" ry="2.4" transform="rotate(0 421.1 33.8)" fill="rgb(4,8,130)"/>
<ellipse cx="441.1" cy="43.0" rx="3.5" ry="4.0" transform="rotate(0 441.1 43.0)" fill="rgb(4,7,120)"/>
<ellipse cx="437.8" cy="48.9" rx="2.4" ry="2.9" transform="rotate(0 437.8 48.9)" fill="rgb(4,7,120)"/>
<ellipse cx="407.7" cy="59.7" rx="1.9" ry="4.0" transform="rotate(0 407.7 59.7)" fill="rgb(3,6,111)"/>
<ellipse cx="452.8" cy="73.1" rx="4.0" ry="4.8" transform="rotate(0 452.8 73.1)" fill="rgb(8,17,187)"/>
<ellipse cx="454.5" cy="79.0" rx="4.0" ry="3.5" transform="rotate(0 454.5 79.0)" fill="rgb(7,15,177)"/>
<ellipse cx="484.6" cy="65.6" rx="2.4" ry="4.8" transform="rotate(0 484.6 65.6)" fill="rgb(4,7,120)"/>
<ellipse cx="476.2" cy="72.3" rx="2.9" ry="2.9" transform="rotate(0 476.2 72.3)" fill="rgb(4,7,120)"/>
<ellipse cx="519.6" cy="39.7" rx="4.8" ry="1.9" transform="rotate(0 519.6 39.7)" fill="rgb(4,7,120)"/>
<ellipse cx="517.1" cy="85.6" rx="3.2" ry="2.4" transform="rotate(0 517.1 85.6)" fill="rgb(5,9,139)"/>
<ellipse cx="407.7" cy="113.2" rx="4.0" ry="2.9" transform="rotate(0 407.7 113.2)" fill="rgb(4,8,130)"/>
<ellipse cx="426.9" cy="113.2" rx="3.2" ry="3.2" transform="rotate(0 426.9 113.2)" fill="rgb(5,9,139)"/>
<ellipse cx="487.9" cy="108.2" rx="3.2" ry="2.9" transform="rotate(0 487.9 108.2)" fill="rgb(5,10,149)"/>
<ellipse cx="499.6" cy="118.2" rx="3.5" ry="3.2" transform="rotate(0 499.6 118.2)" fill="rgb(5,10,149)"/>
<ellipse cx="516.3" cy="123.2" rx="3.5" ry="1.9" transform="rotate(0 516.3 123.2)" fill="rgb(5,9,139)"/>
</g><g filter="url(#bl3)">
<circle cx="420.2" cy="38.0" r="0.75" fill="rgb(30,60,255)"/>
<circle cx="421.1" cy="40.5" r="0.75" fill="rgb(30,60,255)"/>
<circle cx="444.5" cy="58.1" r="0.88" fill="rgb(30,60,255)"/>
<circle cx="453.6" cy="58.4" r="0.75" fill="rgb(30,60,255)"/>
<circle cx="447.0" cy="73.1" r="0.60" fill="rgb(30,60,255)"/>
<circle cx="459.5" cy="73.9" r="0.60" fill="rgb(30,60,255)"/>
<circle cx="455.3" cy="84.8" r="0.63" fill="rgb(30,60,255)"/>
<circle cx="463.7" cy="89.0" r="0.88" fill="rgb(30,60,255)"/>
<circle cx="513.0" cy="98.2" r="0.63" fill="rgb(30,60,255)"/>
<circle cx="497.9" cy="109.9" r="0.63" fill="rgb(30,60,255)"/>
</g>
<g filter="url(#bl2)">
<ellipse cx="557.9" cy="39.7" rx="2.9" ry="2.4" transform="rotate(0 557.9 39.7)" fill="rgb(3,5,101)"/>
<ellipse cx="553.7" cy="50.6" rx="3.2" ry="2.4" transform="rotate(0 553.7 50.6)" fill="rgb(4,7,120)"/>
<ellipse cx="552.9" cy="58.1" rx="1.9" ry="2.4" transform="rotate(0 552.9 58.1)" fill="rgb(4,7,120)"/>
<ellipse cx="583.8" cy="77.3" rx="2.9" ry="3.5" transform="rotate(0 583.8 77.3)" fill="rgb(11,22,215)"/>
<ellipse cx="588.0" cy="81.5" rx="1.9" ry="1.6" transform="rotate(0 588.0 81.5)" fill="rgb(8,17,187)"/>
<ellipse cx="557.9" cy="73.9" rx="2.9" ry="2.9" transform="rotate(0 557.9 73.9)" fill="rgb(3,5,101)"/>
<ellipse cx="642.3" cy="92.3" rx="4.0" ry="3.5" transform="rotate(0 642.3 92.3)" fill="rgb(3,5,101)"/>
<ellipse cx="625.6" cy="112.4" rx="4.0" ry="3.2" transform="rotate(0 625.6 112.4)" fill="rgb(4,7,120)"/>
<ellipse cx="644.0" cy="113.2" rx="4.0" ry="2.9" transform="rotate(0 644.0 113.2)" fill="rgb(4,7,120)"/>
<ellipse cx="603.0" cy="123.2" rx="2.4" ry="1.6" transform="rotate(0 603.0 123.2)" fill="rgb(4,7,120)"/>
</g><g filter="url(#bl3)">
<circle cx="541.2" cy="31.0" r="0.75" fill="rgb(30,60,255)"/>
<circle cx="562.1" cy="53.1" r="0.88" fill="rgb(30,60,255)"/>
<circle cx="612.2" cy="46.4" r="0.88" fill="rgb(30,60,255)"/>
<circle cx="638.9" cy="29.7" r="0.63" fill="rgb(30,60,255)"/>
<circle cx="575.5" cy="70.1" r="1.00" fill="rgb(30,60,255)"/>
<circle cx="593.8" cy="75.6" r="0.75" fill="rgb(30,60,255)"/>
<circle cx="598.8" cy="74.8" r="0.88" fill="rgb(30,60,255)"/>
<circle cx="596.3" cy="81.5" r="0.75" fill="rgb(30,60,255)"/>
<circle cx="597.2" cy="85.6" r="0.88" fill="rgb(30,60,255)"/>
<circle cx="578.8" cy="78.1" r="0.60" fill="rgb(30,60,255)"/>
<circle cx="636.4" cy="75.6" r="0.75" fill="rgb(30,60,255)"/>
<circle cx="532.8" cy="94.0" r="0.75" fill="rgb(30,60,255)"/>
</g>
<g filter="url(#bl2)">
<ellipse cx="780.0" cy="88.2" rx="3.3" ry="4.0" transform="rotate(0 780.0 88.2)" fill="rgb(2,3,73)"/>
<ellipse cx="776.6" cy="106.5" rx="4.0" ry="3.3" transform="rotate(0 776.6 106.5)" fill="rgb(2,3,73)"/>
</g><g filter="url(#bl3)">
<circle cx="706.8" cy="43.4" r="0.88" fill="rgb(30,60,255)"/>
<circle cx="717.3" cy="79.0" r="0.75" fill="rgb(30,60,255)"/>
<circle cx="684.4" cy="99.8" r="0.88" fill="rgb(30,60,255)"/>
<circle cx="759.1" cy="111.0" r="0.75" fill="rgb(30,60,255)"/>
</g>
</g>
<rect x="10.3" y="115.8" width="32.5" height="1.7" fill="#f4f4f4"/>
<text x="4.60" y="150.00" font-size="21.3" text-anchor="start" fill="#000" font-weight="bold" >B</text>
<text x="284.90" y="621.90" font-size="21.3" text-anchor="start" fill="#000" font-weight="bold" >C</text>
<rect x="52.1" y="155.5" width="213.70000000000002" height="176.7" fill="none" stroke="#666" stroke-width="1.15"/>
<line x1="60.10" y1="332.20" x2="60.10" y2="338.20" stroke="#666" stroke-width="1" />
<text x="60.10" y="355.00" font-size="10" text-anchor="middle" fill="#1a1a1a" >-2</text>
<line x1="116.60" y1="332.20" x2="116.60" y2="338.20" stroke="#666" stroke-width="1" />
<text x="116.60" y="355.00" font-size="10" text-anchor="middle" fill="#1a1a1a" >-1</text>
<line x1="173.20" y1="332.20" x2="173.20" y2="338.20" stroke="#666" stroke-width="1" />
<text x="173.20" y="355.00" font-size="10" text-anchor="middle" fill="#1a1a1a" >0</text>
<line x1="229.70" y1="332.20" x2="229.70" y2="338.20" stroke="#666" stroke-width="1" />
<text x="229.70" y="355.00" font-size="10" text-anchor="middle" fill="#1a1a1a" >1</text>
<text x="159.35" y="379.50" font-size="10.4" text-anchor="middle" fill="#1a1a1a" >Log10[Concentration]</text>
<line x1="46.10" y1="189.00" x2="52.10" y2="189.00" stroke="#666" stroke-width="1" />
<text x="38.50" y="189.00" font-size="10" text-anchor="middle" fill="#1a1a1a" transform="rotate(-90 38.50 189.00)" >100</text>
<line x1="46.10" y1="243.80" x2="52.10" y2="243.80" stroke="#666" stroke-width="1" />
<text x="38.50" y="243.80" font-size="10" text-anchor="middle" fill="#1a1a1a" transform="rotate(-90 38.50 243.80)" >60</text>
<line x1="46.10" y1="298.60" x2="52.10" y2="298.60" stroke="#666" stroke-width="1" />
<text x="38.50" y="298.60" font-size="10" text-anchor="middle" fill="#1a1a1a" transform="rotate(-90 38.50 298.60)" >20</text>
<path d="M60.00,189.00 C73.33,190.51 86.67,192.33 100.00,194.40 C116.93,197.03 133.87,199.64 150.80,203.80 C160.67,206.22 170.53,210.03 180.40,213.80 C189.40,217.24 198.40,219.77 207.40,225.60 C213.60,229.62 219.80,238.94 226.00,246.60 C232.93,255.17 239.87,264.30 246.80,275.10 C252.40,283.82 258.00,294.06 263.60,305.10" fill="none" stroke="#5a8a60" stroke-width="1.4"/>
<circle cx="60.0" cy="189.0" r="3" fill="#5a8a60" fill-opacity="1"/>
<circle cx="150.8" cy="203.7" r="3" fill="#5a8a60" fill-opacity="1"/>
<circle cx="207.1" cy="225.5" r="3" fill="#5a8a60" fill-opacity="1"/>
<circle cx="246.6" cy="275.0" r="3" fill="#5a8a60" fill-opacity="1"/>
<circle cx="263.6" cy="305.1" r="3" fill="#5a8a60" fill-opacity="1"/>
<line x1="60.50" y1="174.00" x2="60.50" y2="204.00" stroke="#333" stroke-width="1" />
<line x1="58.00" y1="174.50" x2="63.00" y2="174.50" stroke="#333" stroke-width="1" />
<line x1="58.00" y1="204.50" x2="63.00" y2="204.50" stroke="#333" stroke-width="1" />
<line x1="150.50" y1="193.40" x2="150.50" y2="214.30" stroke="#333" stroke-width="1" />
<line x1="148.00" y1="193.50" x2="153.00" y2="193.50" stroke="#333" stroke-width="1" />
<line x1="148.00" y1="214.50" x2="153.00" y2="214.50" stroke="#333" stroke-width="1" />
<line x1="207.50" y1="214.60" x2="207.50" y2="236.30" stroke="#333" stroke-width="1" />
<line x1="205.00" y1="214.50" x2="210.00" y2="214.50" stroke="#333" stroke-width="1" />
<line x1="205.00" y1="236.50" x2="210.00" y2="236.50" stroke="#333" stroke-width="1" />
<line x1="246.50" y1="264.50" x2="246.50" y2="285.30" stroke="#333" stroke-width="1" />
<line x1="244.00" y1="264.50" x2="249.00" y2="264.50" stroke="#333" stroke-width="1" />
<line x1="244.00" y1="285.50" x2="249.00" y2="285.50" stroke="#333" stroke-width="1" />
<line x1="263.50" y1="297.60" x2="263.50" y2="312.60" stroke="#333" stroke-width="1" />
<line x1="261.00" y1="297.50" x2="266.00" y2="297.50" stroke="#333" stroke-width="1" />
<line x1="261.00" y1="312.50" x2="266.00" y2="312.50" stroke="#333" stroke-width="1" />
<circle cx="61.1" cy="320.5" r="2.6" fill="#5a8a60"/>
<text x="70.30" y="324.10" font-size="10.2" text-anchor="start" fill="#1a1a1a" >GU-HGG-160_4</text>
<text x="12.60" y="242.90" font-size="10.45" text-anchor="middle" fill="#1a1a1a" transform="rotate(-90 12.60 242.90)" >Remaining cells after ALECSAT (%)</text>
<rect x="311.5" y="155.5" width="213.79999999999995" height="176.7" fill="none" stroke="#666" stroke-width="1.15"/>
<line x1="319.00" y1="332.20" x2="319.00" y2="338.20" stroke="#666" stroke-width="1" />
<text x="319.00" y="355.00" font-size="10" text-anchor="middle" fill="#1a1a1a" >-2</text>
<line x1="375.50" y1="332.20" x2="375.50" y2="338.20" stroke="#666" stroke-width="1" />
<text x="375.50" y="355.00" font-size="10" text-anchor="middle" fill="#1a1a1a" >-1</text>
<line x1="432.00" y1="332.20" x2="432.00" y2="338.20" stroke="#666" stroke-width="1" />
<text x="432.00" y="355.00" font-size="10" text-anchor="middle" fill="#1a1a1a" >0</text>
<line x1="488.50" y1="332.20" x2="488.50" y2="338.20" stroke="#666" stroke-width="1" />
<text x="488.50" y="355.00" font-size="10" text-anchor="middle" fill="#1a1a1a" >1</text>
<text x="418.80" y="379.50" font-size="10.4" text-anchor="middle" fill="#1a1a1a" >Log10[Concentration]</text>
<line x1="305.50" y1="208.40" x2="311.50" y2="208.40" stroke="#666" stroke-width="1" />
<text x="297.90" y="208.40" font-size="10" text-anchor="middle" fill="#1a1a1a" transform="rotate(-90 297.90 208.40)" >100</text>
<line x1="305.50" y1="255.60" x2="311.50" y2="255.60" stroke="#666" stroke-width="1" />
<text x="297.90" y="255.60" font-size="10" text-anchor="middle" fill="#1a1a1a" transform="rotate(-90 297.90 255.60)" >60</text>
<line x1="305.50" y1="302.70" x2="311.50" y2="302.70" stroke="#666" stroke-width="1" />
<text x="297.90" y="302.70" font-size="10" text-anchor="middle" fill="#1a1a1a" transform="rotate(-90 297.90 302.70)" >20</text>
<path d="M318.90,208.50 C337.77,218.45 356.63,227.21 375.50,233.80 C394.33,240.38 413.17,241.47 432.00,250.00 C445.20,255.98 458.40,276.97 471.60,287.00 C477.27,291.31 482.93,295.30 488.60,298.30 C494.37,301.35 500.13,304.02 505.90,305.90" fill="none" stroke="#a3d3e0" stroke-width="1.15"/>
<path d="M318.90,208.50 C337.77,203.61 356.63,200.10 375.50,200.10 C394.33,200.10 413.17,201.87 432.00,204.20 C445.20,205.83 458.40,211.53 471.60,217.30" fill="none" stroke="#3ed6c3" stroke-width="1.4"/>
<path d="M318.90,208.50 C337.77,205.02 356.63,202.00 375.50,200.20 C394.33,198.40 413.17,196.20 432.00,196.20 C445.20,196.20 458.40,196.20 471.60,196.20 C477.27,196.20 482.93,196.20 488.60,196.20" fill="none" stroke="#1f80e8" stroke-width="1.6"/>
<path d="M318.90,208.50 C337.77,220.72 356.63,229.09 375.50,232.60 C381.50,233.72 387.50,233.79 393.50,235.00 C399.10,236.13 404.70,238.89 410.30,241.90 C417.53,245.78 424.77,252.98 432.00,259.40 C445.20,271.11 458.40,287.43 471.60,299.40 C477.27,304.54 482.93,309.22 488.60,313.70" fill="none" stroke="#5a8a60" stroke-width="1.4"/>
<circle cx="318.9" cy="208.5" r="3" fill="#a3d3e0" fill-opacity="0.85"/>
<circle cx="375.5" cy="233.5" r="3" fill="#a3d3e0" fill-opacity="0.85"/>
<circle cx="432.0" cy="250.0" r="3" fill="#a3d3e0" fill-opacity="0.85"/>
<circle cx="471.6" cy="287.0" r="3" fill="#a3d3e0" fill-opacity="0.85"/>
<circle cx="488.6" cy="298.3" r="3" fill="#a3d3e0" fill-opacity="0.85"/>
<circle cx="505.9" cy="305.9" r="3" fill="#a3d3e0" fill-opacity="0.85"/>
<circle cx="318.9" cy="208.5" r="3" fill="#3ed6c3" fill-opacity="0.95"/>
<circle cx="375.5" cy="200.1" r="3" fill="#3ed6c3" fill-opacity="0.95"/>
<circle cx="432.0" cy="204.2" r="3" fill="#3ed6c3" fill-opacity="0.95"/>
<circle cx="471.6" cy="217.3" r="3" fill="#3ed6c3" fill-opacity="0.95"/>
<circle cx="318.9" cy="208.5" r="3" fill="#1f80e8" fill-opacity="1"/>
<circle cx="375.5" cy="200.2" r="3" fill="#1f80e8" fill-opacity="1"/>
<circle cx="432.0" cy="196.2" r="3" fill="#1f80e8" fill-opacity="1"/>
<circle cx="471.6" cy="196.2" r="3" fill="#1f80e8" fill-opacity="1"/>
<circle cx="488.6" cy="196.2" r="3" fill="#1f80e8" fill-opacity="1"/>
<circle cx="318.9" cy="208.5" r="3" fill="#5a8a60" fill-opacity="1"/>
<circle cx="375.5" cy="232.6" r="3" fill="#5a8a60" fill-opacity="1"/>
<circle cx="432.0" cy="259.4" r="3" fill="#5a8a60" fill-opacity="1"/>
<circle cx="471.6" cy="299.4" r="3" fill="#5a8a60" fill-opacity="1"/>
<circle cx="488.6" cy="313.7" r="3" fill="#5a8a60" fill-opacity="1"/>
<line x1="318.50" y1="170.50" x2="318.50" y2="246.30" stroke="#333" stroke-width="1" />
<line x1="316.00" y1="170.50" x2="321.00" y2="170.50" stroke="#333" stroke-width="1" />
<line x1="316.00" y1="174.50" x2="321.00" y2="174.50" stroke="#333" stroke-width="1" />
<line x1="316.00" y1="184.50" x2="321.00" y2="184.50" stroke="#333" stroke-width="1" />
<line x1="316.00" y1="194.50" x2="321.00" y2="194.50" stroke="#333" stroke-width="1" />
<line x1="316.00" y1="222.50" x2="321.00" y2="222.50" stroke="#333" stroke-width="1" />
<line x1="316.00" y1="232.50" x2="321.00" y2="232.50" stroke="#333" stroke-width="1" />
<line x1="316.00" y1="242.50" x2="321.00" y2="242.50" stroke="#333" stroke-width="1" />
<line x1="316.00" y1="246.50" x2="321.00" y2="246.50" stroke="#333" stroke-width="1" />
<line x1="375.50" y1="166.40" x2="375.50" y2="254.30" stroke="#333" stroke-width="1" />
<line x1="373.00" y1="166.50" x2="378.00" y2="166.50" stroke="#333" stroke-width="1" />
<line x1="373.00" y1="183.50" x2="378.00" y2="183.50" stroke="#333" stroke-width="1" />
<line x1="373.00" y1="212.50" x2="378.00" y2="212.50" stroke="#333" stroke-width="1" />
<line x1="373.00" y1="216.50" x2="378.00" y2="216.50" stroke="#333" stroke-width="1" />
<line x1="373.00" y1="253.50" x2="378.00" y2="253.50" stroke="#333" stroke-width="1" />
<line x1="373.00" y1="254.50" x2="378.00" y2="254.50" stroke="#333" stroke-width="1" />
<line x1="432.50" y1="171.60" x2="432.50" y2="275.40" stroke="#333" stroke-width="1" />
<line x1="430.00" y1="171.50" x2="435.00" y2="171.50" stroke="#333" stroke-width="1" />
<line x1="430.00" y1="181.50" x2="435.00" y2="181.50" stroke="#333" stroke-width="1" />
<line x1="430.00" y1="211.50" x2="435.00" y2="211.50" stroke="#333" stroke-width="1" />
<line x1="430.00" y1="233.50" x2="435.00" y2="233.50" stroke="#333" stroke-width="1" />
<line x1="430.00" y1="237.50" x2="435.00" y2="237.50" stroke="#333" stroke-width="1" />
<line x1="430.00" y1="266.50" x2="435.00" y2="266.50" stroke="#333" stroke-width="1" />
<line x1="430.00" y1="275.50" x2="435.00" y2="275.50" stroke="#333" stroke-width="1" />
<line x1="471.50" y1="179.40" x2="471.50" y2="242.50" stroke="#333" stroke-width="1" />
<line x1="471.50" y1="280.40" x2="471.50" y2="306.30" stroke="#333" stroke-width="1" />
<line x1="469.00" y1="179.50" x2="474.00" y2="179.50" stroke="#333" stroke-width="1" />
<line x1="469.00" y1="191.50" x2="474.00" y2="191.50" stroke="#333" stroke-width="1" />
<line x1="469.00" y1="212.50" x2="474.00" y2="212.50" stroke="#333" stroke-width="1" />
<line x1="469.00" y1="242.50" x2="474.00" y2="242.50" stroke="#333" stroke-width="1" />
<line x1="469.00" y1="280.50" x2="474.00" y2="280.50" stroke="#333" stroke-width="1" />
<line x1="469.00" y1="293.50" x2="474.00" y2="293.50" stroke="#333" stroke-width="1" />
<line x1="469.00" y1="306.50" x2="474.00" y2="306.50" stroke="#333" stroke-width="1" />
<line x1="488.50" y1="182.10" x2="488.50" y2="209.50" stroke="#333" stroke-width="1" />
<line x1="488.50" y1="294.10" x2="488.50" y2="302.10" stroke="#333" stroke-width="1" />
<line x1="488.50" y1="309.50" x2="488.50" y2="316.20" stroke="#333" stroke-width="1" />
<line x1="486.00" y1="182.50" x2="491.00" y2="182.50" stroke="#333" stroke-width="1" />
<line x1="486.00" y1="209.50" x2="491.00" y2="209.50" stroke="#333" stroke-width="1" />
<line x1="486.00" y1="294.50" x2="491.00" y2="294.50" stroke="#333" stroke-width="1" />
<line x1="486.00" y1="302.50" x2="491.00" y2="302.50" stroke="#333" stroke-width="1" />
<line x1="486.00" y1="309.50" x2="491.00" y2="309.50" stroke="#333" stroke-width="1" />
<line x1="486.00" y1="316.50" x2="491.00" y2="316.50" stroke="#333" stroke-width="1" />
<line x1="505.50" y1="298.30" x2="505.50" y2="314.10" stroke="#333" stroke-width="1" />
<line x1="503.00" y1="298.50" x2="508.00" y2="298.50" stroke="#333" stroke-width="1" />
<line x1="503.00" y1="314.50" x2="508.00" y2="314.50" stroke="#333" stroke-width="1" />
<circle cx="320.4" cy="284.2" r="2.6" fill="#a3d3e0"/>
<text x="329.60" y="287.80" font-size="10.2" text-anchor="start" fill="#1a1a1a" >GU-HGG-131_1</text>
<circle cx="320.4" cy="296.3" r="2.6" fill="#3ed6c3"/>
<text x="329.60" y="299.90" font-size="10.2" text-anchor="start" fill="#1a1a1a" >GU-HGG-131_2</text>
<circle cx="320.4" cy="308.4" r="2.6" fill="#1f80e8"/>
<text x="329.60" y="312.00" font-size="10.2" text-anchor="start" fill="#1a1a1a" >GU-HGG-131_3</text>
<circle cx="320.4" cy="320.5" r="2.6" fill="#5a8a60"/>
<text x="329.60" y="324.10" font-size="10.2" text-anchor="start" fill="#1a1a1a" >GU-HGG-131_4</text>
<rect x="570.3" y="155.5" width="213.60000000000002" height="176.7" fill="none" stroke="#666" stroke-width="1.15"/>
<line x1="578.10" y1="332.20" x2="578.10" y2="338.20" stroke="#666" stroke-width="1" />
<text x="578.10" y="355.00" font-size="10" text-anchor="middle" fill="#1a1a1a" >-2</text>
<line x1="634.50" y1="332.20" x2="634.50" y2="338.20" stroke="#666" stroke-width="1" />
<text x="634.50" y="355.00" font-size="10" text-anchor="middle" fill="#1a1a1a" >-1</text>
<line x1="690.90" y1="332.20" x2="690.90" y2="338.20" stroke="#666" stroke-width="1" />
<text x="690.90" y="355.00" font-size="10" text-anchor="middle" fill="#1a1a1a" >0</text>
<line x1="747.60" y1="332.20" x2="747.60" y2="338.20" stroke="#666" stroke-width="1" />
<text x="747.60" y="355.00" font-size="10" text-anchor="middle" fill="#1a1a1a" >1</text>
<text x="677.50" y="379.50" font-size="10.4" text-anchor="middle" fill="#1a1a1a" >Log10[Concentration]</text>
<line x1="564.30" y1="188.90" x2="570.30" y2="188.90" stroke="#666" stroke-width="1" />
<text x="556.70" y="188.90" font-size="10" text-anchor="middle" fill="#1a1a1a" transform="rotate(-90 556.70 188.90)" >100</text>
<line x1="564.30" y1="243.60" x2="570.30" y2="243.60" stroke="#666" stroke-width="1" />
<text x="556.70" y="243.60" font-size="10" text-anchor="middle" fill="#1a1a1a" transform="rotate(-90 556.70 243.60)" >60</text>
<line x1="564.30" y1="298.20" x2="570.30" y2="298.20" stroke="#666" stroke-width="1" />
<text x="556.70" y="298.20" font-size="10" text-anchor="middle" fill="#1a1a1a" transform="rotate(-90 556.70 298.20)" >20</text>
<path d="M578.00,189.00 C596.63,186.89 615.27,185.25 633.90,183.90 C639.17,183.52 644.43,182.90 649.70,182.90 C656.30,182.90 662.90,185.40 669.50,187.80 C676.63,190.39 683.77,195.45 690.90,202.70 C693.67,205.51 696.43,210.18 699.20,215.50 C702.50,221.85 705.80,233.06 709.10,241.30 C712.40,249.54 715.70,258.54 719.00,265.00 C722.97,272.76 726.93,277.29 730.90,284.50 C736.57,294.80 742.23,318.50 747.90,319.70 C753.57,320.90 759.23,321.60 764.90,321.60" fill="none" stroke="#a3d3e0" stroke-width="1.15"/>
<path d="M578.00,189.00 C587.00,187.87 596.00,186.85 605.00,186.50 C614.63,186.13 624.27,185.80 633.90,185.80 C639.17,185.80 644.43,189.37 649.70,191.80 C656.30,194.85 662.90,199.46 669.50,203.70 C676.63,208.28 683.77,211.26 690.90,218.50 C693.67,221.31 696.43,226.22 699.20,231.40 C702.50,237.58 705.80,247.53 709.10,255.10 C712.40,262.67 715.70,271.72 719.00,276.90 C722.97,283.12 726.93,286.74 730.90,291.20 C736.57,297.57 742.23,303.58 747.90,309.00" fill="none" stroke="#3ed6c3" stroke-width="1.4"/>
<path d="M578.00,189.00 C585.67,185.78 593.33,184.30 601.00,184.30 C611.97,184.30 622.93,189.66 633.90,194.80 C637.20,196.35 640.50,198.88 643.80,201.70 C647.10,204.52 650.40,208.42 653.70,212.60 C657.00,216.78 660.30,222.62 663.60,227.40 C666.90,232.18 670.20,237.03 673.50,241.30 C676.80,245.57 680.10,249.17 683.40,253.20 C685.90,256.25 688.40,259.11 690.90,262.50 C693.67,266.26 696.43,270.27 699.20,275.00 C702.50,280.65 705.80,288.55 709.10,294.80 C712.40,301.05 715.70,307.76 719.00,312.60 C721.63,316.46 724.27,320.63 726.90,322.50 C728.23,323.44 729.57,324.60 730.90,324.60 C736.57,324.60 742.23,324.60 747.90,324.60 C753.57,324.60 759.23,324.60 764.90,324.60" fill="none" stroke="#1f80e8" stroke-width="1.6"/>
<circle cx="578.0" cy="189.0" r="3" fill="#a3d3e0" fill-opacity="0.85"/>
<circle cx="634.3" cy="185.6" r="3" fill="#a3d3e0" fill-opacity="0.85"/>
<circle cx="690.8" cy="202.9" r="3" fill="#a3d3e0" fill-opacity="0.85"/>
<circle cx="730.9" cy="284.5" r="3" fill="#a3d3e0" fill-opacity="0.85"/>
<circle cx="747.9" cy="319.9" r="3" fill="#a3d3e0" fill-opacity="0.85"/>
<circle cx="764.9" cy="321.8" r="3" fill="#a3d3e0" fill-opacity="0.85"/>
<circle cx="578.0" cy="189.0" r="3" fill="#3ed6c3" fill-opacity="0.95"/>
<circle cx="634.3" cy="186.2" r="3" fill="#3ed6c3" fill-opacity="0.95"/>
<circle cx="690.8" cy="218.8" r="3" fill="#3ed6c3" fill-opacity="0.95"/>
<circle cx="730.9" cy="291.2" r="3" fill="#3ed6c3" fill-opacity="0.95"/>
<circle cx="747.9" cy="309.0" r="3" fill="#3ed6c3" fill-opacity="0.95"/>
<circle cx="578.0" cy="189.0" r="3" fill="#1f80e8" fill-opacity="1"/>
<circle cx="634.3" cy="195.1" r="3" fill="#1f80e8" fill-opacity="1"/>
<circle cx="690.8" cy="262.5" r="3" fill="#1f80e8" fill-opacity="1"/>
<circle cx="730.9" cy="324.6" r="3" fill="#1f80e8" fill-opacity="1"/>
<circle cx="747.9" cy="324.6" r="3" fill="#1f80e8" fill-opacity="1"/>
<circle cx="764.9" cy="324.6" r="3" fill="#1f80e8" fill-opacity="1"/>
<line x1="578.50" y1="167.30" x2="578.50" y2="209.90" stroke="#333" stroke-width="1" />
<line x1="576.00" y1="167.50" x2="581.00" y2="167.50" stroke="#333" stroke-width="1" />
<line x1="576.00" y1="170.50" x2="581.00" y2="170.50" stroke="#333" stroke-width="1" />
<line x1="576.00" y1="184.50" x2="581.00" y2="184.50" stroke="#333" stroke-width="1" />
<line x1="576.00" y1="193.50" x2="581.00" y2="193.50" stroke="#333" stroke-width="1" />
<line x1="576.00" y1="207.50" x2="581.00" y2="207.50" stroke="#333" stroke-width="1" />
<line x1="576.00" y1="209.50" x2="581.00" y2="209.50" stroke="#333" stroke-width="1" />
<line x1="634.50" y1="166.70" x2="634.50" y2="205.70" stroke="#333" stroke-width="1" />
<line x1="632.00" y1="166.50" x2="637.00" y2="166.50" stroke="#333" stroke-width="1" />
<line x1="632.00" y1="182.50" x2="637.00" y2="182.50" stroke="#333" stroke-width="1" />
<line x1="632.00" y1="200.50" x2="637.00" y2="200.50" stroke="#333" stroke-width="1" />
<line x1="632.00" y1="205.50" x2="637.00" y2="205.50" stroke="#333" stroke-width="1" />
<line x1="690.50" y1="182.30" x2="690.50" y2="233.00" stroke="#333" stroke-width="1" />
<line x1="690.50" y1="253.60" x2="690.50" y2="271.70" stroke="#333" stroke-width="1" />
<line x1="688.00" y1="182.50" x2="693.00" y2="182.50" stroke="#333" stroke-width="1" />
<line x1="688.00" y1="209.50" x2="693.00" y2="209.50" stroke="#333" stroke-width="1" />
<line x1="688.00" y1="223.50" x2="693.00" y2="223.50" stroke="#333" stroke-width="1" />
<line x1="688.00" y1="233.50" x2="693.00" y2="233.50" stroke="#333" stroke-width="1" />
<line x1="688.00" y1="253.50" x2="693.00" y2="253.50" stroke="#333" stroke-width="1" />
<line x1="688.00" y1="271.50" x2="693.00" y2="271.50" stroke="#333" stroke-width="1" />
<line x1="730.50" y1="269.50" x2="730.50" y2="299.50" stroke="#333" stroke-width="1" />
<line x1="728.00" y1="269.50" x2="733.00" y2="269.50" stroke="#333" stroke-width="1" />
<line x1="728.00" y1="287.50" x2="733.00" y2="287.50" stroke="#333" stroke-width="1" />
<line x1="728.00" y1="295.50" x2="733.00" y2="295.50" stroke="#333" stroke-width="1" />
<line x1="728.00" y1="299.50" x2="733.00" y2="299.50" stroke="#333" stroke-width="1" />
<line x1="747.50" y1="306.20" x2="747.50" y2="311.00" stroke="#333" stroke-width="1" />
<line x1="747.50" y1="318.50" x2="747.50" y2="321.00" stroke="#333" stroke-width="1" />
<line x1="745.00" y1="306.50" x2="750.00" y2="306.50" stroke="#333" stroke-width="1" />
<line x1="745.00" y1="311.50" x2="750.00" y2="311.50" stroke="#333" stroke-width="1" />
<line x1="745.00" y1="318.50" x2="750.00" y2="318.50" stroke="#333" stroke-width="1" />
<line x1="745.00" y1="321.50" x2="750.00" y2="321.50" stroke="#333" stroke-width="1" />
<line x1="764.50" y1="320.00" x2="764.50" y2="323.20" stroke="#333" stroke-width="1" />
<line x1="762.00" y1="320.50" x2="767.00" y2="320.50" stroke="#333" stroke-width="1" />
<line x1="762.00" y1="323.50" x2="767.00" y2="323.50" stroke="#333" stroke-width="1" />
<circle cx="579.1" cy="296.3" r="2.6" fill="#a3d3e0"/>
<text x="588.30" y="299.90" font-size="10.2" text-anchor="start" fill="#1a1a1a" >GU-HGG-145_1</text>
<circle cx="579.1" cy="308.4" r="2.6" fill="#3ed6c3"/>
<text x="588.30" y="312.00" font-size="10.2" text-anchor="start" fill="#1a1a1a" >GU-HGG-145_2</text>
<circle cx="579.1" cy="320.5" r="2.6" fill="#1f80e8"/>
<text x="588.30" y="324.10" font-size="10.2" text-anchor="start" fill="#1a1a1a" >GU-HGG-145_3</text>
<rect x="52.2" y="385.5" width="213.7" height="176.60000000000002" fill="none" stroke="#666" stroke-width="1.15"/>
<line x1="60.10" y1="562.10" x2="60.10" y2="568.10" stroke="#666" stroke-width="1" />
<text x="60.10" y="584.90" font-size="10" text-anchor="middle" fill="#1a1a1a" >-2</text>
<line x1="116.60" y1="562.10" x2="116.60" y2="568.10" stroke="#666" stroke-width="1" />
<text x="116.60" y="584.90" font-size="10" text-anchor="middle" fill="#1a1a1a" >-1</text>
<line x1="173.20" y1="562.10" x2="173.20" y2="568.10" stroke="#666" stroke-width="1" />
<text x="173.20" y="584.90" font-size="10" text-anchor="middle" fill="#1a1a1a" >0</text>
<line x1="229.70" y1="562.10" x2="229.70" y2="568.10" stroke="#666" stroke-width="1" />
<text x="229.70" y="584.90" font-size="10" text-anchor="middle" fill="#1a1a1a" >1</text>
<line x1="46.20" y1="418.90" x2="52.20" y2="418.90" stroke="#666" stroke-width="1" />
<text x="38.60" y="418.90" font-size="10" text-anchor="middle" fill="#1a1a1a" transform="rotate(-90 38.60 418.90)" >100</text>
<line x1="46.20" y1="473.50" x2="52.20" y2="473.50" stroke="#666" stroke-width="1" />
<text x="38.60" y="473.50" font-size="10" text-anchor="middle" fill="#1a1a1a" transform="rotate(-90 38.60 473.50)" >60</text>
<line x1="46.20" y1="528.10" x2="52.20" y2="528.10" stroke="#666" stroke-width="1" />
<text x="38.60" y="528.10" font-size="10" text-anchor="middle" fill="#1a1a1a" transform="rotate(-90 38.60 528.10)" >20</text>
<path d="M60.00,419.00 C78.77,429.75 97.53,432.40 116.30,432.40 C130.87,432.40 145.43,416.80 160.00,416.80 C164.27,416.80 168.53,419.39 172.80,421.80 C186.17,429.34 199.53,458.86 212.90,482.50 C218.57,492.52 224.23,504.63 229.90,517.00" fill="none" stroke="#a3d3e0" stroke-width="1.15"/>
<path d="M60.00,419.00 C78.77,421.77 97.53,424.30 116.30,426.50 C135.13,428.71 153.97,432.40 172.80,432.40 C186.17,432.40 199.53,424.42 212.90,416.20" fill="none" stroke="#3ed6c3" stroke-width="1.4"/>
<circle cx="60.0" cy="419.0" r="3" fill="#a3d3e0" fill-opacity="0.85"/>
<circle cx="116.3" cy="432.4" r="3" fill="#a3d3e0" fill-opacity="0.85"/>
<circle cx="172.8" cy="421.8" r="3" fill="#a3d3e0" fill-opacity="0.85"/>
<circle cx="212.9" cy="482.5" r="3" fill="#a3d3e0" fill-opacity="0.85"/>
<circle cx="229.9" cy="517.0" r="3" fill="#a3d3e0" fill-opacity="0.85"/>
<circle cx="60.0" cy="419.0" r="3" fill="#3ed6c3" fill-opacity="0.95"/>
<circle cx="172.8" cy="432.4" r="3" fill="#3ed6c3" fill-opacity="0.95"/>
<circle cx="212.9" cy="416.2" r="3" fill="#3ed6c3" fill-opacity="0.95"/>
<line x1="60.50" y1="406.50" x2="60.50" y2="431.50" stroke="#333" stroke-width="1" />
<line x1="58.00" y1="406.50" x2="63.00" y2="406.50" stroke="#333" stroke-width="1" />
<line x1="58.00" y1="408.50" x2="63.00" y2="408.50" stroke="#333" stroke-width="1" />
<line x1="58.00" y1="429.50" x2="63.00" y2="429.50" stroke="#333" stroke-width="1" />
<line x1="58.00" y1="431.50" x2="63.00" y2="431.50" stroke="#333" stroke-width="1" />
<line x1="116.50" y1="409.00" x2="116.50" y2="455.70" stroke="#333" stroke-width="1" />
<line x1="114.00" y1="409.50" x2="119.00" y2="409.50" stroke="#333" stroke-width="1" />
<line x1="114.00" y1="455.50" x2="119.00" y2="455.50" stroke="#333" stroke-width="1" />
<line x1="172.50" y1="407.30" x2="172.50" y2="441.80" stroke="#333" stroke-width="1" />
<line x1="170.00" y1="407.50" x2="175.00" y2="407.50" stroke="#333" stroke-width="1" />
<line x1="170.00" y1="422.50" x2="175.00" y2="422.50" stroke="#333" stroke-width="1" />
<line x1="170.00" y1="437.50" x2="175.00" y2="437.50" stroke="#333" stroke-width="1" />
<line x1="170.00" y1="441.50" x2="175.00" y2="441.50" stroke="#333" stroke-width="1" />
<line x1="212.50" y1="407.30" x2="212.50" y2="425.10" stroke="#333" stroke-width="1" />
<line x1="212.50" y1="477.50" x2="212.50" y2="488.00" stroke="#333" stroke-width="1" />
<line x1="210.00" y1="407.50" x2="215.00" y2="407.50" stroke="#333" stroke-width="1" />
<line x1="210.00" y1="425.50" x2="215.00" y2="425.50" stroke="#333" stroke-width="1" />
<line x1="210.00" y1="477.50" x2="215.00" y2="477.50" stroke="#333" stroke-width="1" />
<line x1="210.00" y1="488.50" x2="215.00" y2="488.50" stroke="#333" stroke-width="1" />
<line x1="229.50" y1="511.40" x2="229.50" y2="522.00" stroke="#333" stroke-width="1" />
<line x1="227.00" y1="511.50" x2="232.00" y2="511.50" stroke="#333" stroke-width="1" />
<line x1="227.00" y1="522.50" x2="232.00" y2="522.50" stroke="#333" stroke-width="1" />
<circle cx="61.1" cy="538.8" r="2.6" fill="#a3d3e0"/>
<text x="70.30" y="542.40" font-size="10.2" text-anchor="start" fill="#1a1a1a" >GU-HGG-150_1</text>
<circle cx="61.1" cy="550.4" r="2.6" fill="#3ed6c3"/>
<text x="70.30" y="554.00" font-size="10.2" text-anchor="start" fill="#1a1a1a" >GU-HGG-150_2</text>
<text x="12.60" y="473.70" font-size="10.45" text-anchor="middle" fill="#1a1a1a" transform="rotate(-90 12.60 473.70)" >Remaining cells after ALECSAT (%)</text>
<rect x="313.8" y="385.6" width="213.3" height="176.69999999999993" fill="none" stroke="#666" stroke-width="1.15"/>
<line x1="321.60" y1="562.30" x2="321.60" y2="568.30" stroke="#666" stroke-width="1" />
<text x="321.60" y="585.10" font-size="10" text-anchor="middle" fill="#1a1a1a" >-2</text>
<line x1="378.10" y1="562.30" x2="378.10" y2="568.30" stroke="#666" stroke-width="1" />
<text x="378.10" y="585.10" font-size="10" text-anchor="middle" fill="#1a1a1a" >-1</text>
<line x1="434.60" y1="562.30" x2="434.60" y2="568.30" stroke="#666" stroke-width="1" />
<text x="434.60" y="585.10" font-size="10" text-anchor="middle" fill="#1a1a1a" >0</text>
<line x1="491.10" y1="562.30" x2="491.10" y2="568.30" stroke="#666" stroke-width="1" />
<text x="491.10" y="585.10" font-size="10" text-anchor="middle" fill="#1a1a1a" >1</text>
<line x1="307.80" y1="419.60" x2="313.80" y2="419.60" stroke="#666" stroke-width="1" />
<text x="300.20" y="419.60" font-size="10" text-anchor="middle" fill="#1a1a1a" transform="rotate(-90 300.20 419.60)" >100</text>
<line x1="307.80" y1="474.60" x2="313.80" y2="474.60" stroke="#666" stroke-width="1" />
<text x="300.20" y="474.60" font-size="10" text-anchor="middle" fill="#1a1a1a" transform="rotate(-90 300.20 474.60)" >60</text>
<line x1="307.80" y1="529.20" x2="313.80" y2="529.20" stroke="#666" stroke-width="1" />
<text x="300.20" y="529.20" font-size="10" text-anchor="middle" fill="#1a1a1a" transform="rotate(-90 300.20 529.20)" >20</text>
<path d="M321.40,419.80 C340.37,420.68 359.33,423.38 378.30,426.30 C384.20,427.21 390.10,428.24 396.00,429.90 C401.77,431.52 407.53,434.95 413.30,437.70 C417.93,439.91 422.57,441.57 427.20,444.70 C429.67,446.36 432.13,448.65 434.60,451.60 C437.33,454.87 440.07,460.50 442.80,465.50 C445.70,470.80 448.60,476.71 451.50,482.80 C454.37,488.82 457.23,495.92 460.10,501.90 C462.43,506.76 464.77,511.32 467.10,515.70 C469.50,520.21 471.90,525.79 474.30,528.60 C477.10,531.88 479.90,533.50 482.70,535.80 C485.67,538.23 488.63,540.57 491.60,542.80" fill="none" stroke="#a3d3e0" stroke-width="1.15"/>
<path d="M321.40,419.80 C340.37,419.80 359.33,422.73 378.30,426.30 C381.30,426.86 384.30,427.76 387.30,429.10 C390.20,430.40 393.10,433.34 396.00,436.00 C398.90,438.66 401.80,442.17 404.70,445.50 C407.57,448.79 410.43,452.76 413.30,455.90 C416.20,459.08 419.10,462.12 422.00,464.60 C424.30,466.57 426.60,468.25 428.90,469.80 C430.80,471.08 432.70,471.80 434.60,473.30 C437.33,475.45 440.07,479.13 442.80,482.80 C445.70,486.69 448.60,492.06 451.50,496.70 C454.37,501.29 457.23,506.23 460.10,510.50 C463.00,514.82 465.90,518.70 468.80,522.60 C470.63,525.07 472.47,528.07 474.30,529.80 C477.10,532.44 479.90,533.70 482.70,535.80 C485.67,538.02 488.63,540.36 491.60,542.80" fill="none" stroke="#1f80e8" stroke-width="1.6"/>
<circle cx="321.4" cy="419.8" r="3" fill="#a3d3e0" fill-opacity="0.85"/>
<circle cx="378.2" cy="426.0" r="3" fill="#a3d3e0" fill-opacity="0.85"/>
<circle cx="435.0" cy="451.8" r="3" fill="#a3d3e0" fill-opacity="0.85"/>
<circle cx="474.6" cy="529.0" r="3" fill="#a3d3e0" fill-opacity="0.85"/>
<circle cx="491.6" cy="542.9" r="3" fill="#a3d3e0" fill-opacity="0.85"/>
<circle cx="321.4" cy="419.8" r="3" fill="#1f80e8" fill-opacity="1"/>
<circle cx="378.2" cy="426.0" r="3" fill="#1f80e8" fill-opacity="1"/>
<circle cx="435.0" cy="473.3" r="3" fill="#1f80e8" fill-opacity="1"/>
<circle cx="474.6" cy="530.4" r="3" fill="#1f80e8" fill-opacity="1"/>
<circle cx="491.6" cy="542.9" r="3" fill="#1f80e8" fill-opacity="1"/>
<line x1="321.50" y1="404.50" x2="321.50" y2="434.90" stroke="#333" stroke-width="1" />
<line x1="319.00" y1="404.50" x2="324.00" y2="404.50" stroke="#333" stroke-width="1" />
<line x1="319.00" y1="406.50" x2="324.00" y2="406.50" stroke="#333" stroke-width="1" />
<line x1="319.00" y1="432.50" x2="324.00" y2="432.50" stroke="#333" stroke-width="1" />
<line x1="319.00" y1="434.50" x2="324.00" y2="434.50" stroke="#333" stroke-width="1" />
<line x1="378.50" y1="390.60" x2="378.50" y2="461.30" stroke="#333" stroke-width="1" />
<line x1="376.00" y1="390.50" x2="381.00" y2="390.50" stroke="#333" stroke-width="1" />
<line x1="376.00" y1="417.50" x2="381.00" y2="417.50" stroke="#333" stroke-width="1" />
<line x1="376.00" y1="437.50" x2="381.00" y2="437.50" stroke="#333" stroke-width="1" />
<line x1="376.00" y1="461.50" x2="381.00" y2="461.50" stroke="#333" stroke-width="1" />
<line x1="435.50" y1="432.40" x2="435.50" y2="508.10" stroke="#333" stroke-width="1" />
<line x1="433.00" y1="432.50" x2="438.00" y2="432.50" stroke="#333" stroke-width="1" />
<line x1="433.00" y1="437.50" x2="438.00" y2="437.50" stroke="#333" stroke-width="1" />
<line x1="433.00" y1="508.50" x2="438.00" y2="508.50" stroke="#333" stroke-width="1" />
<line x1="474.50" y1="521.50" x2="474.50" y2="534.60" stroke="#333" stroke-width="1" />
<line x1="472.00" y1="521.50" x2="477.00" y2="521.50" stroke="#333" stroke-width="1" />
<line x1="472.00" y1="524.50" x2="477.00" y2="524.50" stroke="#333" stroke-width="1" />
<line x1="472.00" y1="532.50" x2="477.00" y2="532.50" stroke="#333" stroke-width="1" />
<line x1="472.00" y1="534.50" x2="477.00" y2="534.50" stroke="#333" stroke-width="1" />
<line x1="491.50" y1="537.60" x2="491.50" y2="547.60" stroke="#333" stroke-width="1" />
<line x1="489.00" y1="537.50" x2="494.00" y2="537.50" stroke="#333" stroke-width="1" />
<line x1="489.00" y1="547.50" x2="494.00" y2="547.50" stroke="#333" stroke-width="1" />
<circle cx="322.5" cy="538.9" r="2.6" fill="#a3d3e0"/>
<text x="331.70" y="542.50" font-size="10.2" text-anchor="start" fill="#1a1a1a" >GU-HGG-151_1</text>
<circle cx="322.5" cy="550.6" r="2.6" fill="#1f80e8"/>
<text x="331.70" y="554.20" font-size="10.2" text-anchor="start" fill="#1a1a1a" >GU-HGG-151_3</text>
<rect x="570.3" y="385.6" width="213.60000000000002" height="176.69999999999993" fill="none" stroke="#666" stroke-width="1.15"/>
<line x1="578.10" y1="562.30" x2="578.10" y2="568.30" stroke="#666" stroke-width="1" />
<text x="578.10" y="585.10" font-size="10" text-anchor="middle" fill="#1a1a1a" >-2</text>
<line x1="634.50" y1="562.30" x2="634.50" y2="568.30" stroke="#666" stroke-width="1" />
<text x="634.50" y="585.10" font-size="10" text-anchor="middle" fill="#1a1a1a" >-1</text>
<line x1="690.90" y1="562.30" x2="690.90" y2="568.30" stroke="#666" stroke-width="1" />
<text x="690.90" y="585.10" font-size="10" text-anchor="middle" fill="#1a1a1a" >0</text>
<line x1="747.60" y1="562.30" x2="747.60" y2="568.30" stroke="#666" stroke-width="1" />
<text x="747.60" y="585.10" font-size="10" text-anchor="middle" fill="#1a1a1a" >1</text>
<line x1="564.30" y1="419.60" x2="570.30" y2="419.60" stroke="#666" stroke-width="1" />
<text x="556.70" y="419.60" font-size="10" text-anchor="middle" fill="#1a1a1a" transform="rotate(-90 556.70 419.60)" >100</text>
<line x1="564.30" y1="474.20" x2="570.30" y2="474.20" stroke="#666" stroke-width="1" />
<text x="556.70" y="474.20" font-size="10" text-anchor="middle" fill="#1a1a1a" transform="rotate(-90 556.70 474.20)" >60</text>
<line x1="564.30" y1="528.90" x2="570.30" y2="528.90" stroke="#666" stroke-width="1" />
<text x="556.70" y="528.90" font-size="10" text-anchor="middle" fill="#1a1a1a" transform="rotate(-90 556.70 528.90)" >20</text>
<path d="M578.00,419.80 C596.77,419.80 615.53,422.36 634.30,425.10 C653.13,427.85 671.97,432.46 690.80,443.50 C697.47,447.41 704.13,459.81 710.80,471.40 C717.50,483.05 724.20,504.19 730.90,517.80 C736.57,529.31 742.23,544.02 747.90,548.80 C750.60,551.08 753.30,552.96 756.00,553.60 C758.97,554.30 761.93,554.90 764.90,554.90" fill="none" stroke="#a3d3e0" stroke-width="1.15"/>
<path d="M578.00,419.80 C588.67,418.35 599.33,417.40 610.00,417.40 C618.10,417.40 626.20,417.77 634.30,418.20 C653.13,419.20 671.97,428.09 690.80,433.30 C696.10,434.76 701.40,435.58 706.70,437.80 C710.80,439.52 714.90,442.88 719.00,447.00 C722.97,450.99 726.93,457.94 730.90,465.10 C736.57,475.33 742.23,492.06 747.90,504.00 C753.57,515.94 759.23,527.08 764.90,537.20" fill="none" stroke="#1f80e8" stroke-width="1.6"/>
<circle cx="578.0" cy="419.8" r="3" fill="#a3d3e0" fill-opacity="0.85"/>
<circle cx="634.3" cy="425.1" r="3" fill="#a3d3e0" fill-opacity="0.85"/>
<circle cx="690.8" cy="443.5" r="3" fill="#a3d3e0" fill-opacity="0.85"/>
<circle cx="730.9" cy="517.8" r="3" fill="#a3d3e0" fill-opacity="0.85"/>
<circle cx="747.9" cy="548.5" r="3" fill="#a3d3e0" fill-opacity="0.85"/>
<circle cx="764.9" cy="554.9" r="3" fill="#a3d3e0" fill-opacity="0.85"/>
<circle cx="578.0" cy="419.8" r="3" fill="#1f80e8" fill-opacity="1"/>
<circle cx="634.3" cy="418.2" r="3" fill="#1f80e8" fill-opacity="1"/>
<circle cx="690.8" cy="432.9" r="3" fill="#1f80e8" fill-opacity="1"/>
<circle cx="730.9" cy="464.9" r="3" fill="#1f80e8" fill-opacity="1"/>
<circle cx="747.9" cy="503.9" r="3" fill="#1f80e8" fill-opacity="1"/>
<circle cx="764.9" cy="537.3" r="3" fill="#1f80e8" fill-opacity="1"/>
<line x1="578.50" y1="395.60" x2="578.50" y2="443.50" stroke="#333" stroke-width="1" />
<line x1="576.00" y1="395.50" x2="581.00" y2="395.50" stroke="#333" stroke-width="1" />
<line x1="576.00" y1="418.50" x2="581.00" y2="418.50" stroke="#333" stroke-width="1" />
<line x1="576.00" y1="421.50" x2="581.00" y2="421.50" stroke="#333" stroke-width="1" />
<line x1="576.00" y1="443.50" x2="581.00" y2="443.50" stroke="#333" stroke-width="1" />
<line x1="634.50" y1="399.80" x2="634.50" y2="436.30" stroke="#333" stroke-width="1" />
<line x1="632.00" y1="399.50" x2="637.00" y2="399.50" stroke="#333" stroke-width="1" />
<line x1="632.00" y1="429.50" x2="637.00" y2="429.50" stroke="#333" stroke-width="1" />
<line x1="632.00" y1="436.50" x2="637.00" y2="436.50" stroke="#333" stroke-width="1" />
<line x1="690.50" y1="415.40" x2="690.50" y2="451.60" stroke="#333" stroke-width="1" />
<line x1="688.00" y1="415.50" x2="693.00" y2="415.50" stroke="#333" stroke-width="1" />
<line x1="688.00" y1="443.50" x2="693.00" y2="443.50" stroke="#333" stroke-width="1" />
<line x1="688.00" y1="445.50" x2="693.00" y2="445.50" stroke="#333" stroke-width="1" />
<line x1="688.00" y1="451.50" x2="693.00" y2="451.50" stroke="#333" stroke-width="1" />
<line x1="730.50" y1="449.60" x2="730.50" y2="480.80" stroke="#333" stroke-width="1" />
<line x1="730.50" y1="508.90" x2="730.50" y2="527.00" stroke="#333" stroke-width="1" />
<line x1="728.00" y1="449.50" x2="733.00" y2="449.50" stroke="#333" stroke-width="1" />
<line x1="728.00" y1="480.50" x2="733.00" y2="480.50" stroke="#333" stroke-width="1" />
<line x1="728.00" y1="508.50" x2="733.00" y2="508.50" stroke="#333" stroke-width="1" />
<line x1="728.00" y1="527.50" x2="733.00" y2="527.50" stroke="#333" stroke-width="1" />
<line x1="747.50" y1="493.60" x2="747.50" y2="514.20" stroke="#333" stroke-width="1" />
<line x1="747.50" y1="546.50" x2="747.50" y2="550.40" stroke="#333" stroke-width="1" />
<line x1="745.00" y1="493.50" x2="750.00" y2="493.50" stroke="#333" stroke-width="1" />
<line x1="745.00" y1="514.50" x2="750.00" y2="514.50" stroke="#333" stroke-width="1" />
<line x1="745.00" y1="546.50" x2="750.00" y2="546.50" stroke="#333" stroke-width="1" />
<line x1="745.00" y1="550.50" x2="750.00" y2="550.50" stroke="#333" stroke-width="1" />
<line x1="764.50" y1="534.60" x2="764.50" y2="540.10" stroke="#333" stroke-width="1" />
<line x1="764.50" y1="554.00" x2="764.50" y2="555.40" stroke="#333" stroke-width="1" />
<line x1="762.00" y1="534.50" x2="767.00" y2="534.50" stroke="#333" stroke-width="1" />
<line x1="762.00" y1="540.50" x2="767.00" y2="540.50" stroke="#333" stroke-width="1" />
<line x1="762.00" y1="554.50" x2="767.00" y2="554.50" stroke="#333" stroke-width="1" />
<line x1="762.00" y1="555.50" x2="767.00" y2="555.50" stroke="#333" stroke-width="1" />
<circle cx="579.1" cy="538.9" r="2.6" fill="#a3d3e0"/>
<text x="588.30" y="542.50" font-size="10.2" text-anchor="start" fill="#1a1a1a" >GU-HGG-163_1</text>
<circle cx="579.1" cy="550.6" r="2.6" fill="#1f80e8"/>
<text x="588.30" y="554.20" font-size="10.2" text-anchor="start" fill="#1a1a1a" >GU-HGG-163_3</text>
<rect x="52.2" y="604.5" width="213.7" height="177.0" fill="none" stroke="#666" stroke-width="1.15"/>
<line x1="60.10" y1="781.50" x2="60.10" y2="787.50" stroke="#666" stroke-width="1" />
<text x="60.10" y="804.30" font-size="10" text-anchor="middle" fill="#1a1a1a" >-2</text>
<line x1="116.60" y1="781.50" x2="116.60" y2="787.50" stroke="#666" stroke-width="1" />
<text x="116.60" y="804.30" font-size="10" text-anchor="middle" fill="#1a1a1a" >-1</text>
<line x1="173.20" y1="781.50" x2="173.20" y2="787.50" stroke="#666" stroke-width="1" />
<text x="173.20" y="804.30" font-size="10" text-anchor="middle" fill="#1a1a1a" >0</text>
<line x1="229.70" y1="781.50" x2="229.70" y2="787.50" stroke="#666" stroke-width="1" />
<text x="229.70" y="804.30" font-size="10" text-anchor="middle" fill="#1a1a1a" >1</text>
<line x1="46.20" y1="658.00" x2="52.20" y2="658.00" stroke="#666" stroke-width="1" />
<text x="38.60" y="658.00" font-size="10" text-anchor="middle" fill="#1a1a1a" transform="rotate(-90 38.60 658.00)" >100</text>
<line x1="46.20" y1="704.80" x2="52.20" y2="704.80" stroke="#666" stroke-width="1" />
<text x="38.60" y="704.80" font-size="10" text-anchor="middle" fill="#1a1a1a" transform="rotate(-90 38.60 704.80)" >60</text>
<line x1="46.20" y1="751.90" x2="52.20" y2="751.90" stroke="#666" stroke-width="1" />
<text x="38.60" y="751.90" font-size="10" text-anchor="middle" fill="#1a1a1a" transform="rotate(-90 38.60 751.90)" >20</text>
<path d="M60.00,658.10 C66.77,657.56 73.53,656.57 80.30,655.40 C88.73,653.95 97.17,651.19 105.60,649.00 C114.07,646.80 122.53,644.01 131.00,642.20 C139.43,640.40 147.87,638.19 156.30,637.70 C161.80,637.38 167.30,637.10 172.80,637.10 C180.80,637.10 188.80,638.32 196.80,639.70 C202.17,640.62 207.53,642.22 212.90,645.40 C215.97,647.22 219.03,654.30 222.10,657.90 C224.70,660.95 227.30,664.49 229.90,666.00 C232.37,667.43 234.83,668.69 237.30,669.00 C240.50,669.41 243.70,669.70 246.90,669.70" fill="none" stroke="#a3d3e0" stroke-width="1.15"/>
<circle cx="60.0" cy="657.9" r="3" fill="#a3d3e0" fill-opacity="0.85"/>
<circle cx="172.8" cy="637.0" r="3" fill="#a3d3e0" fill-opacity="0.85"/>
<circle cx="212.9" cy="645.4" r="3" fill="#a3d3e0" fill-opacity="0.85"/>
<circle cx="229.9" cy="666.0" r="3" fill="#a3d3e0" fill-opacity="0.85"/>
<circle cx="246.9" cy="669.6" r="3" fill="#a3d3e0" fill-opacity="0.85"/>
<line x1="60.50" y1="636.80" x2="60.50" y2="679.40" stroke="#333" stroke-width="1" />
<line x1="58.00" y1="636.50" x2="63.00" y2="636.50" stroke="#333" stroke-width="1" />
<line x1="58.00" y1="679.50" x2="63.00" y2="679.50" stroke="#333" stroke-width="1" />
<line x1="172.50" y1="607.50" x2="172.50" y2="667.40" stroke="#333" stroke-width="1" />
<line x1="170.00" y1="607.50" x2="175.00" y2="607.50" stroke="#333" stroke-width="1" />
<line x1="170.00" y1="667.50" x2="175.00" y2="667.50" stroke="#333" stroke-width="1" />
<line x1="212.50" y1="628.10" x2="212.50" y2="662.90" stroke="#333" stroke-width="1" />
<line x1="210.00" y1="628.50" x2="215.00" y2="628.50" stroke="#333" stroke-width="1" />
<line x1="210.00" y1="662.50" x2="215.00" y2="662.50" stroke="#333" stroke-width="1" />
<line x1="229.50" y1="652.10" x2="229.50" y2="680.20" stroke="#333" stroke-width="1" />
<line x1="227.00" y1="652.50" x2="232.00" y2="652.50" stroke="#333" stroke-width="1" />
<line x1="227.00" y1="680.50" x2="232.00" y2="680.50" stroke="#333" stroke-width="1" />
<line x1="246.50" y1="654.60" x2="246.50" y2="684.40" stroke="#333" stroke-width="1" />
<line x1="244.00" y1="654.50" x2="249.00" y2="654.50" stroke="#333" stroke-width="1" />
<line x1="244.00" y1="684.50" x2="249.00" y2="684.50" stroke="#333" stroke-width="1" />
<circle cx="61.1" cy="769.8" r="2.6" fill="#a3d3e0"/>
<text x="70.30" y="773.40" font-size="10.2" text-anchor="start" fill="#1a1a1a" >GU-HGG-178_1</text>
<text x="12.60" y="692.70" font-size="10.45" text-anchor="middle" fill="#1a1a1a" transform="rotate(-90 12.60 692.70)" >Remaining cells after ALECSAT (%)</text>
<rect x="354.5" y="593.5" width="316.0" height="166.79999999999995" fill="none" stroke="#666" stroke-width="1"/>
<line x1="366.40" y1="760.30" x2="366.40" y2="766.30" stroke="#666" stroke-width="1" />
<text x="366.40" y="782.20" font-size="10" text-anchor="middle" fill="#1a1a1a" >0.0</text>
<line x1="424.80" y1="760.30" x2="424.80" y2="766.30" stroke="#666" stroke-width="1" />
<text x="424.80" y="782.20" font-size="10" text-anchor="middle" fill="#1a1a1a" >0.2</text>
<line x1="483.20" y1="760.30" x2="483.20" y2="766.30" stroke="#666" stroke-width="1" />
<text x="483.20" y="782.20" font-size="10" text-anchor="middle" fill="#1a1a1a" >0.4</text>
<line x1="541.60" y1="760.30" x2="541.60" y2="766.30" stroke="#666" stroke-width="1" />
<text x="541.60" y="782.20" font-size="10" text-anchor="middle" fill="#1a1a1a" >0.6</text>
<line x1="600.00" y1="760.30" x2="600.00" y2="766.30" stroke="#666" stroke-width="1" />
<text x="600.00" y="782.20" font-size="10" text-anchor="middle" fill="#1a1a1a" >0.8</text>
<line x1="658.40" y1="760.30" x2="658.40" y2="766.30" stroke="#666" stroke-width="1" />
<text x="658.40" y="782.20" font-size="10" text-anchor="middle" fill="#1a1a1a" >1.0</text>
<line x1="348.50" y1="753.00" x2="354.50" y2="753.00" stroke="#666" stroke-width="1" />
<line x1="348.50" y1="731.10" x2="354.50" y2="731.10" stroke="#666" stroke-width="1" />
<line x1="348.50" y1="709.20" x2="354.50" y2="709.20" stroke="#666" stroke-width="1" />
<line x1="348.50" y1="687.30" x2="354.50" y2="687.30" stroke="#666" stroke-width="1" />
<line x1="348.50" y1="665.40" x2="354.50" y2="665.40" stroke="#666" stroke-width="1" />
<line x1="348.50" y1="643.50" x2="354.50" y2="643.50" stroke="#666" stroke-width="1" />
<line x1="348.50" y1="621.60" x2="354.50" y2="621.60" stroke="#666" stroke-width="1" />
<line x1="348.50" y1="599.70" x2="354.50" y2="599.70" stroke="#666" stroke-width="1" />
<text x="341.30" y="753.00" font-size="10" text-anchor="middle" fill="#1a1a1a" transform="rotate(-90 341.30 753.00)" >0.40</text>
<text x="341.30" y="709.20" font-size="10" text-anchor="middle" fill="#1a1a1a" transform="rotate(-90 341.30 709.20)" >0.50</text>
<text x="341.30" y="665.40" font-size="10" text-anchor="middle" fill="#1a1a1a" transform="rotate(-90 341.30 665.40)" >0.60</text>
<text x="341.30" y="621.60" font-size="10" text-anchor="middle" fill="#1a1a1a" transform="rotate(-90 341.30 621.60)" >0.70</text>
<text x="512.00" y="805.60" font-size="10" text-anchor="middle" fill="#1a1a1a" >abs(slope)</text>
<text x="318.30" y="675.40" font-size="9.4" text-anchor="middle" fill="#1a1a1a" transform="rotate(-90 318.30 675.40)" >Ratio T helper/T cells in the blood</text>
<text x="358.20" y="603.30" font-size="9.6" text-anchor="start" fill="#1a1a1a" >r=0.784</text>
<text x="359.20" y="614.90" font-size="9.72" text-anchor="start" fill="#1a1a1a" >adjusted p-value=0.005</text>
<circle cx="622.9" cy="599.7" r="2.6" fill="#2588e6"/>
<circle cx="590.2" cy="613.2" r="2.6" fill="#2588e6"/>
<circle cx="592.3" cy="624.6" r="2.6" fill="#2588e6"/>
<circle cx="519.6" cy="622.0" r="2.6" fill="#2588e6"/>
<circle cx="527.9" cy="631.9" r="2.6" fill="#2588e6"/>
<circle cx="476.5" cy="638.1" r="2.6" fill="#2588e6"/>
<circle cx="615.1" cy="634.0" r="2.6" fill="#2588e6"/>
<circle cx="564.2" cy="653.7" r="2.6" fill="#2588e6"/>
<circle cx="565.3" cy="675.5" r="2.6" fill="#2588e6"/>
<circle cx="541.9" cy="687.9" r="2.6" fill="#2588e6"/>
<circle cx="502.0" cy="719.1" r="2.6" fill="#2588e6"/>
<circle cx="466.2" cy="731.5" r="2.6" fill="#2588e6"/>
<circle cx="367.6" cy="708.7" r="2.6" fill="#2588e6"/>
<circle cx="366.0" cy="739.3" r="2.6" fill="#2588e6"/>
<circle cx="412.2" cy="754.4" r="2.6" fill="#2588e6"/>
<line x1="354.5" y1="746.4" x2="670.5" y2="595.3" stroke="#3a3a3a" stroke-width="0.95" stroke-dasharray="4.2,1.9"/>
</svg></body></html>
